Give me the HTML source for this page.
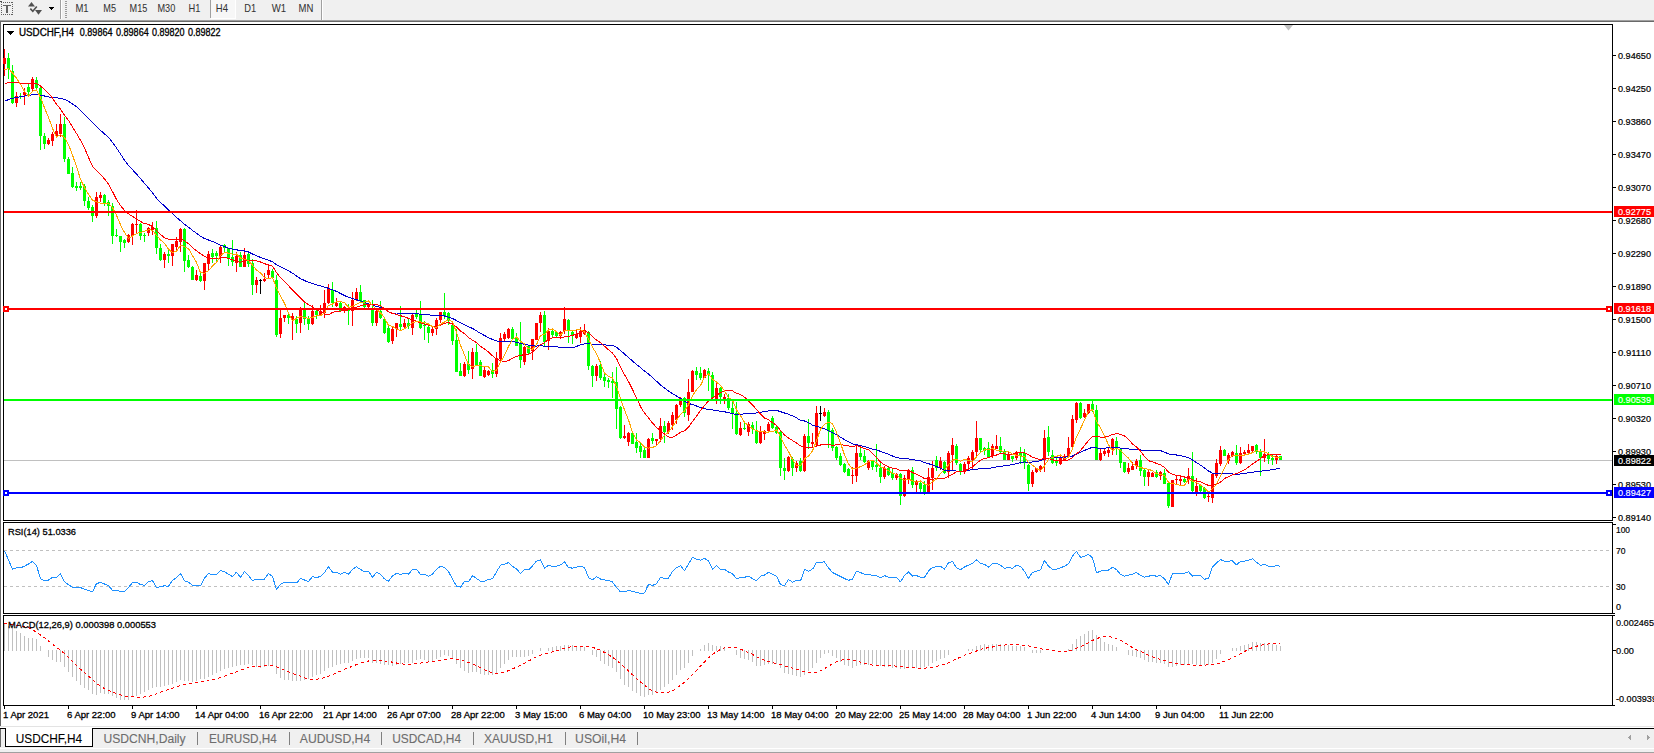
<!DOCTYPE html>
<html><head><meta charset="utf-8"><title>USDCHF,H4</title>
<style>
html,body{margin:0;padding:0;background:#fff;}
body{width:1654px;height:753px;overflow:hidden;font-family:"Liberation Sans", sans-serif;}
svg{display:block;}
text{font-family:"Liberation Sans", sans-serif;}
</style></head><body>
<svg width="1654" height="753" viewBox="0 0 1654 753" shape-rendering="crispEdges">
<rect x="0" y="0" width="1654" height="20" fill="#f0f0f0"/>
<rect x="0" y="20" width="1654" height="1" fill="#a0a0a0"/>
<rect x="0" y="21" width="1654" height="1" fill="#696969"/>
<rect x="0" y="22" width="1654" height="704" fill="#ffffff"/>
<rect x="0" y="21" width="1" height="705" fill="#696969"/>
<rect x="210" y="0" width="26" height="19" fill="#f7f7f7"/>
<rect x="210" y="0" width="1" height="18" fill="#a0a0a0"/>
<rect x="211" y="18" width="25" height="1" fill="#ffffff"/>
<rect x="235" y="0" width="1" height="19" fill="#ffffff"/>
<rect x="60" y="0" width="1" height="19" fill="#a0a0a0"/><rect x="61" y="0" width="1" height="19" fill="#ffffff"/>
<rect x="65" y="1" width="2" height="1" fill="#9a9a9a"/>
<rect x="65" y="3" width="2" height="1" fill="#9a9a9a"/>
<rect x="65" y="5" width="2" height="1" fill="#9a9a9a"/>
<rect x="65" y="7" width="2" height="1" fill="#9a9a9a"/>
<rect x="65" y="9" width="2" height="1" fill="#9a9a9a"/>
<rect x="65" y="11" width="2" height="1" fill="#9a9a9a"/>
<rect x="65" y="13" width="2" height="1" fill="#9a9a9a"/>
<rect x="65" y="15" width="2" height="1" fill="#9a9a9a"/>
<rect x="65" y="17" width="2" height="1" fill="#9a9a9a"/>
<rect x="321" y="0" width="1" height="20" fill="#a0a0a0"/><rect x="322" y="0" width="1" height="20" fill="#ffffff"/>
<rect x="1" y="2" width="1" height="1" fill="#606060"/><rect x="1" y="14" width="1" height="1" fill="#606060"/>
<rect x="3" y="2" width="1" height="1" fill="#606060"/><rect x="3" y="14" width="1" height="1" fill="#606060"/>
<rect x="5" y="2" width="1" height="1" fill="#606060"/><rect x="5" y="14" width="1" height="1" fill="#606060"/>
<rect x="7" y="2" width="1" height="1" fill="#606060"/><rect x="7" y="14" width="1" height="1" fill="#606060"/>
<rect x="9" y="2" width="1" height="1" fill="#606060"/><rect x="9" y="14" width="1" height="1" fill="#606060"/>
<rect x="11" y="2" width="1" height="1" fill="#606060"/><rect x="11" y="14" width="1" height="1" fill="#606060"/>
<rect x="1" y="2" width="1" height="1" fill="#606060"/><rect x="12" y="2" width="1" height="1" fill="#606060"/>
<rect x="1" y="4" width="1" height="1" fill="#606060"/><rect x="12" y="4" width="1" height="1" fill="#606060"/>
<rect x="1" y="6" width="1" height="1" fill="#606060"/><rect x="12" y="6" width="1" height="1" fill="#606060"/>
<rect x="1" y="8" width="1" height="1" fill="#606060"/><rect x="12" y="8" width="1" height="1" fill="#606060"/>
<rect x="1" y="10" width="1" height="1" fill="#606060"/><rect x="12" y="10" width="1" height="1" fill="#606060"/>
<rect x="1" y="12" width="1" height="1" fill="#606060"/><rect x="12" y="12" width="1" height="1" fill="#606060"/>
<rect x="1" y="14" width="1" height="1" fill="#606060"/><rect x="12" y="14" width="1" height="1" fill="#606060"/>
<rect x="3" y="5" width="8" height="1" fill="#606060"/><rect x="6" y="5" width="2" height="8" fill="#606060"/>
<path d="M28 6.5 L31.5 2 L35 6.5 Z" fill="#505050" shape-rendering="auto"/><path d="M35 10 L38.5 14.8 L42 10 Z" fill="#505050" shape-rendering="auto"/>
<path d="M30.3 8.6 L32.8 11.2 L36.8 6.4" stroke="#505050" stroke-width="1.6" fill="none" shape-rendering="auto"/>
<rect x="0" y="1" width="2" height="1" fill="#505050"/>
<path d="M49 7 L54 7 L51.5 10 Z" fill="#000"/>
<text x="75.4" y="12" font-size="10.4" fill="#333333" text-anchor="start" textLength="13.2" lengthAdjust="spacingAndGlyphs" stroke="#333333" stroke-width="0.05">M1</text>
<text x="103.3" y="12" font-size="10.4" fill="#333333" text-anchor="start" textLength="12.7" lengthAdjust="spacingAndGlyphs" stroke="#333333" stroke-width="0.05">M5</text>
<text x="129.6" y="12" font-size="10.4" fill="#333333" text-anchor="start" textLength="17.7" lengthAdjust="spacingAndGlyphs" stroke="#333333" stroke-width="0.05">M15</text>
<text x="157.5" y="12" font-size="10.4" fill="#333333" text-anchor="start" textLength="17.8" lengthAdjust="spacingAndGlyphs" stroke="#333333" stroke-width="0.05">M30</text>
<text x="188.5" y="12" font-size="10.4" fill="#333333" text-anchor="start" textLength="11.9" lengthAdjust="spacingAndGlyphs" stroke="#333333" stroke-width="0.05">H1</text>
<text x="215.8" y="12" font-size="10.4" fill="#333333" text-anchor="start" textLength="12.1" lengthAdjust="spacingAndGlyphs" stroke="#333333" stroke-width="0.05">H4</text>
<text x="244.3" y="12" font-size="10.4" fill="#333333" text-anchor="start" textLength="11.9" lengthAdjust="spacingAndGlyphs" stroke="#333333" stroke-width="0.05">D1</text>
<text x="271.8" y="12" font-size="10.4" fill="#333333" text-anchor="start" textLength="14.4" lengthAdjust="spacingAndGlyphs" stroke="#333333" stroke-width="0.05">W1</text>
<text x="298.5" y="12" font-size="10.4" fill="#333333" text-anchor="start" textLength="14.8" lengthAdjust="spacingAndGlyphs" stroke="#333333" stroke-width="0.05">MN</text>
<rect x="3.5" y="24.5" width="1609" height="496" fill="none" stroke="#000" stroke-width="1"/>
<rect x="3.5" y="522.5" width="1609" height="91" fill="none" stroke="#000" stroke-width="1"/>
<rect x="3.5" y="615.5" width="1609" height="90" fill="none" stroke="#000" stroke-width="1"/>
<path d="M1284 25 L1293 25 L1288.5 30.5 Z" fill="#c0c0c0" shape-rendering="auto"/>
<rect x="1613" y="55" width="3" height="1" fill="#000"/>
<text x="1618" y="59" font-size="9.4" fill="#000" text-anchor="start" textLength="33" lengthAdjust="spacingAndGlyphs" stroke="#000" stroke-width="0.2">0.94650</text>
<rect x="1613" y="88" width="3" height="1" fill="#000"/>
<text x="1618" y="92" font-size="9.4" fill="#000" text-anchor="start" textLength="33" lengthAdjust="spacingAndGlyphs" stroke="#000" stroke-width="0.2">0.94250</text>
<rect x="1613" y="121" width="3" height="1" fill="#000"/>
<text x="1618" y="125" font-size="9.4" fill="#000" text-anchor="start" textLength="33" lengthAdjust="spacingAndGlyphs" stroke="#000" stroke-width="0.2">0.93860</text>
<rect x="1613" y="154" width="3" height="1" fill="#000"/>
<text x="1618" y="158" font-size="9.4" fill="#000" text-anchor="start" textLength="33" lengthAdjust="spacingAndGlyphs" stroke="#000" stroke-width="0.2">0.93470</text>
<rect x="1613" y="187" width="3" height="1" fill="#000"/>
<text x="1618" y="191" font-size="9.4" fill="#000" text-anchor="start" textLength="33" lengthAdjust="spacingAndGlyphs" stroke="#000" stroke-width="0.2">0.93070</text>
<rect x="1613" y="220" width="3" height="1" fill="#000"/>
<text x="1618" y="224" font-size="9.4" fill="#000" text-anchor="start" textLength="33" lengthAdjust="spacingAndGlyphs" stroke="#000" stroke-width="0.2">0.92680</text>
<rect x="1613" y="253" width="3" height="1" fill="#000"/>
<text x="1618" y="257" font-size="9.4" fill="#000" text-anchor="start" textLength="33" lengthAdjust="spacingAndGlyphs" stroke="#000" stroke-width="0.2">0.92290</text>
<rect x="1613" y="286" width="3" height="1" fill="#000"/>
<text x="1618" y="290" font-size="9.4" fill="#000" text-anchor="start" textLength="33" lengthAdjust="spacingAndGlyphs" stroke="#000" stroke-width="0.2">0.91890</text>
<rect x="1613" y="319" width="3" height="1" fill="#000"/>
<text x="1618" y="323" font-size="9.4" fill="#000" text-anchor="start" textLength="33" lengthAdjust="spacingAndGlyphs" stroke="#000" stroke-width="0.2">0.91500</text>
<rect x="1613" y="352" width="3" height="1" fill="#000"/>
<text x="1618" y="356" font-size="9.4" fill="#000" text-anchor="start" textLength="33" lengthAdjust="spacingAndGlyphs" stroke="#000" stroke-width="0.2">0.91110</text>
<rect x="1613" y="385" width="3" height="1" fill="#000"/>
<text x="1618" y="389" font-size="9.4" fill="#000" text-anchor="start" textLength="33" lengthAdjust="spacingAndGlyphs" stroke="#000" stroke-width="0.2">0.90710</text>
<rect x="1613" y="418" width="3" height="1" fill="#000"/>
<text x="1618" y="422" font-size="9.4" fill="#000" text-anchor="start" textLength="33" lengthAdjust="spacingAndGlyphs" stroke="#000" stroke-width="0.2">0.90320</text>
<rect x="1613" y="451" width="3" height="1" fill="#000"/>
<text x="1618" y="455" font-size="9.4" fill="#000" text-anchor="start" textLength="33" lengthAdjust="spacingAndGlyphs" stroke="#000" stroke-width="0.2">0.89930</text>
<rect x="1613" y="484" width="3" height="1" fill="#000"/>
<text x="1618" y="488" font-size="9.4" fill="#000" text-anchor="start" textLength="33" lengthAdjust="spacingAndGlyphs" stroke="#000" stroke-width="0.2">0.89530</text>
<rect x="1613" y="517" width="3" height="1" fill="#000"/>
<text x="1618" y="521" font-size="9.4" fill="#000" text-anchor="start" textLength="33" lengthAdjust="spacingAndGlyphs" stroke="#000" stroke-width="0.2">0.89140</text>
<rect x="4" y="460" width="1608" height="1" fill="#c0c0c0"/>
<rect x="4" y="49" width="1" height="27" fill="#ff0000"/>
<rect x="3" y="58" width="3" height="6" fill="#ff0000"/>
<rect x="8" y="53" width="1" height="26" fill="#00ff00"/>
<rect x="7" y="58" width="3" height="11" fill="#00ff00"/>
<rect x="12" y="65" width="1" height="39" fill="#00ff00"/>
<rect x="11" y="71" width="3" height="32" fill="#00ff00"/>
<rect x="16" y="92" width="1" height="15" fill="#ff0000"/>
<rect x="15" y="96" width="3" height="7" fill="#ff0000"/>
<rect x="20" y="93" width="1" height="6" fill="#00ff00"/>
<rect x="19" y="96" width="3" height="1" fill="#00ff00"/>
<rect x="24" y="88" width="1" height="17" fill="#ff0000"/>
<rect x="23" y="92" width="3" height="3" fill="#ff0000"/>
<rect x="28" y="84" width="1" height="11" fill="#00ff00"/>
<rect x="27" y="87" width="3" height="5" fill="#00ff00"/>
<rect x="32" y="77" width="1" height="14" fill="#ff0000"/>
<rect x="31" y="79" width="3" height="10" fill="#ff0000"/>
<rect x="36" y="77" width="1" height="13" fill="#00ff00"/>
<rect x="35" y="80" width="3" height="8" fill="#00ff00"/>
<rect x="40" y="86" width="1" height="64" fill="#00ff00"/>
<rect x="39" y="88" width="3" height="48" fill="#00ff00"/>
<rect x="44" y="133" width="1" height="16" fill="#00ff00"/>
<rect x="43" y="136" width="3" height="8" fill="#00ff00"/>
<rect x="48" y="138" width="1" height="7" fill="#ff0000"/>
<rect x="47" y="140" width="3" height="4" fill="#ff0000"/>
<rect x="52" y="132" width="1" height="14" fill="#ff0000"/>
<rect x="51" y="134" width="3" height="7" fill="#ff0000"/>
<rect x="56" y="124" width="1" height="13" fill="#ff0000"/>
<rect x="55" y="131" width="3" height="5" fill="#ff0000"/>
<rect x="60" y="114" width="1" height="23" fill="#ff0000"/>
<rect x="59" y="124" width="3" height="10" fill="#ff0000"/>
<rect x="64" y="117" width="1" height="45" fill="#00ff00"/>
<rect x="63" y="124" width="3" height="35" fill="#00ff00"/>
<rect x="68" y="157" width="1" height="17" fill="#00ff00"/>
<rect x="67" y="159" width="3" height="15" fill="#00ff00"/>
<rect x="72" y="167" width="1" height="21" fill="#00ff00"/>
<rect x="71" y="173" width="3" height="14" fill="#00ff00"/>
<rect x="76" y="182" width="1" height="9" fill="#00ff00"/>
<rect x="75" y="186" width="3" height="2" fill="#00ff00"/>
<rect x="80" y="182" width="1" height="8" fill="#00ff00"/>
<rect x="79" y="186" width="3" height="2" fill="#00ff00"/>
<rect x="84" y="184" width="1" height="22" fill="#00ff00"/>
<rect x="83" y="186" width="3" height="15" fill="#00ff00"/>
<rect x="88" y="197" width="1" height="13" fill="#00ff00"/>
<rect x="87" y="201" width="3" height="7" fill="#00ff00"/>
<rect x="92" y="205" width="1" height="17" fill="#00ff00"/>
<rect x="91" y="207" width="3" height="9" fill="#00ff00"/>
<rect x="96" y="192" width="1" height="26" fill="#ff0000"/>
<rect x="95" y="197" width="3" height="19" fill="#ff0000"/>
<rect x="100" y="192" width="1" height="10" fill="#ff0000"/>
<rect x="99" y="195" width="3" height="3" fill="#ff0000"/>
<rect x="104" y="194" width="1" height="12" fill="#00ff00"/>
<rect x="103" y="195" width="3" height="8" fill="#00ff00"/>
<rect x="108" y="200" width="1" height="16" fill="#00ff00"/>
<rect x="107" y="202" width="3" height="4" fill="#00ff00"/>
<rect x="112" y="203" width="1" height="41" fill="#00ff00"/>
<rect x="111" y="206" width="3" height="30" fill="#00ff00"/>
<rect x="116" y="229" width="1" height="8" fill="#00ff00"/>
<rect x="115" y="235" width="3" height="1" fill="#00ff00"/>
<rect x="120" y="236" width="1" height="16" fill="#00ff00"/>
<rect x="119" y="236" width="3" height="6" fill="#00ff00"/>
<rect x="124" y="239" width="1" height="9" fill="#00ff00"/>
<rect x="123" y="240" width="3" height="3" fill="#00ff00"/>
<rect x="128" y="234" width="1" height="9" fill="#ff0000"/>
<rect x="127" y="235" width="3" height="7" fill="#ff0000"/>
<rect x="132" y="223" width="1" height="22" fill="#ff0000"/>
<rect x="131" y="224" width="3" height="12" fill="#ff0000"/>
<rect x="136" y="210" width="1" height="24" fill="#ff0000"/>
<rect x="135" y="224" width="3" height="1" fill="#ff0000"/>
<rect x="140" y="223" width="1" height="17" fill="#00ff00"/>
<rect x="139" y="224" width="3" height="12" fill="#00ff00"/>
<rect x="144" y="233" width="1" height="9" fill="#00ff00"/>
<rect x="143" y="235" width="3" height="1" fill="#00ff00"/>
<rect x="148" y="227" width="1" height="9" fill="#ff0000"/>
<rect x="147" y="228" width="3" height="5" fill="#ff0000"/>
<rect x="152" y="222" width="1" height="13" fill="#ff0000"/>
<rect x="151" y="227" width="3" height="3" fill="#ff0000"/>
<rect x="156" y="221" width="1" height="33" fill="#00ff00"/>
<rect x="155" y="228" width="3" height="20" fill="#00ff00"/>
<rect x="160" y="244" width="1" height="17" fill="#00ff00"/>
<rect x="159" y="248" width="3" height="12" fill="#00ff00"/>
<rect x="164" y="252" width="1" height="16" fill="#ff0000"/>
<rect x="163" y="254" width="3" height="6" fill="#ff0000"/>
<rect x="168" y="250" width="1" height="13" fill="#00ff00"/>
<rect x="167" y="254" width="3" height="2" fill="#00ff00"/>
<rect x="172" y="244" width="1" height="22" fill="#ff0000"/>
<rect x="171" y="244" width="3" height="12" fill="#ff0000"/>
<rect x="176" y="237" width="1" height="14" fill="#ff0000"/>
<rect x="175" y="241" width="3" height="6" fill="#ff0000"/>
<rect x="180" y="228" width="1" height="24" fill="#ff0000"/>
<rect x="179" y="229" width="3" height="13" fill="#ff0000"/>
<rect x="184" y="228" width="1" height="44" fill="#00ff00"/>
<rect x="183" y="229" width="3" height="32" fill="#00ff00"/>
<rect x="188" y="255" width="1" height="13" fill="#00ff00"/>
<rect x="187" y="260" width="3" height="7" fill="#00ff00"/>
<rect x="192" y="266" width="1" height="14" fill="#00ff00"/>
<rect x="191" y="267" width="3" height="13" fill="#00ff00"/>
<rect x="196" y="270" width="1" height="11" fill="#ff0000"/>
<rect x="195" y="275" width="3" height="5" fill="#ff0000"/>
<rect x="200" y="271" width="1" height="11" fill="#00ff00"/>
<rect x="199" y="276" width="3" height="5" fill="#00ff00"/>
<rect x="204" y="263" width="1" height="27" fill="#ff0000"/>
<rect x="203" y="263" width="3" height="18" fill="#ff0000"/>
<rect x="208" y="251" width="1" height="19" fill="#ff0000"/>
<rect x="207" y="254" width="3" height="10" fill="#ff0000"/>
<rect x="212" y="249" width="1" height="14" fill="#00ff00"/>
<rect x="211" y="253" width="3" height="4" fill="#00ff00"/>
<rect x="216" y="251" width="1" height="10" fill="#00ff00"/>
<rect x="215" y="253" width="3" height="3" fill="#00ff00"/>
<rect x="220" y="246" width="1" height="17" fill="#ff0000"/>
<rect x="219" y="247" width="3" height="9" fill="#ff0000"/>
<rect x="224" y="244" width="1" height="8" fill="#00ff00"/>
<rect x="223" y="245" width="3" height="3" fill="#00ff00"/>
<rect x="228" y="248" width="1" height="18" fill="#00ff00"/>
<rect x="227" y="248" width="3" height="10" fill="#00ff00"/>
<rect x="232" y="240" width="1" height="26" fill="#00ff00"/>
<rect x="231" y="257" width="3" height="5" fill="#00ff00"/>
<rect x="236" y="252" width="1" height="20" fill="#ff0000"/>
<rect x="235" y="256" width="3" height="7" fill="#ff0000"/>
<rect x="240" y="252" width="1" height="15" fill="#00ff00"/>
<rect x="239" y="255" width="3" height="12" fill="#00ff00"/>
<rect x="244" y="248" width="1" height="19" fill="#ff0000"/>
<rect x="243" y="255" width="3" height="12" fill="#ff0000"/>
<rect x="248" y="251" width="1" height="16" fill="#00ff00"/>
<rect x="247" y="254" width="3" height="10" fill="#00ff00"/>
<rect x="252" y="259" width="1" height="36" fill="#00ff00"/>
<rect x="251" y="263" width="3" height="22" fill="#00ff00"/>
<rect x="256" y="277" width="1" height="16" fill="#ff0000"/>
<rect x="255" y="280" width="3" height="5" fill="#ff0000"/>
<rect x="260" y="279" width="1" height="15" fill="#000000"/>
<rect x="259" y="280" width="3" height="1" fill="#000000"/>
<rect x="264" y="273" width="1" height="9" fill="#ff0000"/>
<rect x="263" y="279" width="3" height="2" fill="#ff0000"/>
<rect x="268" y="265" width="1" height="14" fill="#ff0000"/>
<rect x="267" y="270" width="3" height="5" fill="#ff0000"/>
<rect x="272" y="269" width="1" height="10" fill="#00ff00"/>
<rect x="271" y="271" width="3" height="7" fill="#00ff00"/>
<rect x="276" y="275" width="1" height="62" fill="#00ff00"/>
<rect x="275" y="280" width="3" height="55" fill="#00ff00"/>
<rect x="280" y="310" width="1" height="28" fill="#ff0000"/>
<rect x="279" y="318" width="3" height="16" fill="#ff0000"/>
<rect x="284" y="315" width="1" height="7" fill="#ff0000"/>
<rect x="283" y="315" width="3" height="3" fill="#ff0000"/>
<rect x="288" y="314" width="1" height="10" fill="#00ff00"/>
<rect x="287" y="315" width="3" height="3" fill="#00ff00"/>
<rect x="292" y="313" width="1" height="27" fill="#ff0000"/>
<rect x="291" y="316" width="3" height="4" fill="#ff0000"/>
<rect x="296" y="316" width="1" height="17" fill="#00ff00"/>
<rect x="295" y="319" width="3" height="5" fill="#00ff00"/>
<rect x="300" y="307" width="1" height="26" fill="#ff0000"/>
<rect x="299" y="309" width="3" height="14" fill="#ff0000"/>
<rect x="304" y="303" width="1" height="22" fill="#00ff00"/>
<rect x="303" y="310" width="3" height="9" fill="#00ff00"/>
<rect x="308" y="316" width="1" height="14" fill="#00ff00"/>
<rect x="307" y="319" width="3" height="5" fill="#00ff00"/>
<rect x="312" y="305" width="1" height="20" fill="#ff0000"/>
<rect x="311" y="311" width="3" height="13" fill="#ff0000"/>
<rect x="316" y="310" width="1" height="9" fill="#00ff00"/>
<rect x="315" y="311" width="3" height="4" fill="#00ff00"/>
<rect x="320" y="305" width="1" height="11" fill="#ff0000"/>
<rect x="319" y="311" width="3" height="4" fill="#ff0000"/>
<rect x="324" y="290" width="1" height="28" fill="#ff0000"/>
<rect x="323" y="303" width="3" height="10" fill="#ff0000"/>
<rect x="328" y="284" width="1" height="20" fill="#ff0000"/>
<rect x="327" y="288" width="3" height="15" fill="#ff0000"/>
<rect x="332" y="282" width="1" height="25" fill="#00ff00"/>
<rect x="331" y="290" width="3" height="13" fill="#00ff00"/>
<rect x="336" y="298" width="1" height="9" fill="#ff0000"/>
<rect x="335" y="303" width="3" height="3" fill="#ff0000"/>
<rect x="340" y="301" width="1" height="11" fill="#00ff00"/>
<rect x="339" y="303" width="3" height="8" fill="#00ff00"/>
<rect x="344" y="306" width="1" height="7" fill="#ff0000"/>
<rect x="343" y="307" width="3" height="4" fill="#ff0000"/>
<rect x="348" y="304" width="1" height="21" fill="#00ff00"/>
<rect x="347" y="308" width="3" height="3" fill="#00ff00"/>
<rect x="352" y="292" width="1" height="34" fill="#ff0000"/>
<rect x="351" y="300" width="3" height="11" fill="#ff0000"/>
<rect x="356" y="288" width="1" height="13" fill="#ff0000"/>
<rect x="355" y="292" width="3" height="8" fill="#ff0000"/>
<rect x="360" y="285" width="1" height="17" fill="#00ff00"/>
<rect x="359" y="292" width="3" height="9" fill="#00ff00"/>
<rect x="364" y="300" width="1" height="8" fill="#00ff00"/>
<rect x="363" y="300" width="3" height="7" fill="#00ff00"/>
<rect x="368" y="303" width="1" height="5" fill="#ff0000"/>
<rect x="367" y="304" width="3" height="3" fill="#ff0000"/>
<rect x="372" y="300" width="1" height="26" fill="#00ff00"/>
<rect x="371" y="310" width="3" height="13" fill="#00ff00"/>
<rect x="376" y="309" width="1" height="17" fill="#ff0000"/>
<rect x="375" y="311" width="3" height="12" fill="#ff0000"/>
<rect x="380" y="301" width="1" height="18" fill="#00ff00"/>
<rect x="379" y="311" width="3" height="7" fill="#00ff00"/>
<rect x="384" y="318" width="1" height="16" fill="#00ff00"/>
<rect x="383" y="319" width="3" height="14" fill="#00ff00"/>
<rect x="388" y="326" width="1" height="17" fill="#00ff00"/>
<rect x="387" y="328" width="3" height="14" fill="#00ff00"/>
<rect x="392" y="327" width="1" height="17" fill="#ff0000"/>
<rect x="391" y="329" width="3" height="12" fill="#ff0000"/>
<rect x="396" y="323" width="1" height="14" fill="#ff0000"/>
<rect x="395" y="323" width="3" height="6" fill="#ff0000"/>
<rect x="400" y="306" width="1" height="25" fill="#00ff00"/>
<rect x="399" y="324" width="3" height="3" fill="#00ff00"/>
<rect x="404" y="319" width="1" height="10" fill="#ff0000"/>
<rect x="403" y="323" width="3" height="4" fill="#ff0000"/>
<rect x="408" y="319" width="1" height="10" fill="#00ff00"/>
<rect x="407" y="323" width="3" height="3" fill="#00ff00"/>
<rect x="412" y="314" width="1" height="21" fill="#ff0000"/>
<rect x="411" y="315" width="3" height="13" fill="#ff0000"/>
<rect x="416" y="310" width="1" height="9" fill="#00ff00"/>
<rect x="415" y="314" width="3" height="3" fill="#00ff00"/>
<rect x="420" y="301" width="1" height="28" fill="#00ff00"/>
<rect x="419" y="315" width="3" height="13" fill="#00ff00"/>
<rect x="424" y="321" width="1" height="19" fill="#00ff00"/>
<rect x="423" y="325" width="3" height="1" fill="#00ff00"/>
<rect x="428" y="326" width="1" height="17" fill="#00ff00"/>
<rect x="427" y="327" width="3" height="6" fill="#00ff00"/>
<rect x="432" y="327" width="1" height="9" fill="#ff0000"/>
<rect x="431" y="329" width="3" height="4" fill="#ff0000"/>
<rect x="436" y="318" width="1" height="17" fill="#ff0000"/>
<rect x="435" y="320" width="3" height="9" fill="#ff0000"/>
<rect x="440" y="312" width="1" height="11" fill="#ff0000"/>
<rect x="439" y="312" width="3" height="8" fill="#ff0000"/>
<rect x="444" y="293" width="1" height="26" fill="#00ff00"/>
<rect x="443" y="312" width="3" height="4" fill="#00ff00"/>
<rect x="448" y="312" width="1" height="13" fill="#00ff00"/>
<rect x="447" y="313" width="3" height="8" fill="#00ff00"/>
<rect x="452" y="323" width="1" height="22" fill="#00ff00"/>
<rect x="451" y="325" width="3" height="16" fill="#00ff00"/>
<rect x="456" y="329" width="1" height="43" fill="#00ff00"/>
<rect x="455" y="340" width="3" height="32" fill="#00ff00"/>
<rect x="460" y="363" width="1" height="13" fill="#00ff00"/>
<rect x="459" y="371" width="3" height="5" fill="#00ff00"/>
<rect x="464" y="362" width="1" height="15" fill="#ff0000"/>
<rect x="463" y="364" width="3" height="12" fill="#ff0000"/>
<rect x="468" y="351" width="1" height="23" fill="#00ff00"/>
<rect x="467" y="364" width="3" height="6" fill="#00ff00"/>
<rect x="472" y="348" width="1" height="31" fill="#ff0000"/>
<rect x="471" y="352" width="3" height="17" fill="#ff0000"/>
<rect x="476" y="344" width="1" height="22" fill="#00ff00"/>
<rect x="475" y="352" width="3" height="13" fill="#00ff00"/>
<rect x="480" y="360" width="1" height="16" fill="#00ff00"/>
<rect x="479" y="362" width="3" height="14" fill="#00ff00"/>
<rect x="484" y="367" width="1" height="11" fill="#ff0000"/>
<rect x="483" y="370" width="3" height="7" fill="#ff0000"/>
<rect x="488" y="370" width="1" height="6" fill="#ff0000"/>
<rect x="487" y="371" width="3" height="4" fill="#ff0000"/>
<rect x="492" y="363" width="1" height="15" fill="#00ff00"/>
<rect x="491" y="370" width="3" height="4" fill="#00ff00"/>
<rect x="496" y="352" width="1" height="25" fill="#ff0000"/>
<rect x="495" y="358" width="3" height="16" fill="#ff0000"/>
<rect x="500" y="333" width="1" height="29" fill="#ff0000"/>
<rect x="499" y="338" width="3" height="21" fill="#ff0000"/>
<rect x="504" y="332" width="1" height="10" fill="#ff0000"/>
<rect x="503" y="334" width="3" height="5" fill="#ff0000"/>
<rect x="508" y="328" width="1" height="11" fill="#ff0000"/>
<rect x="507" y="329" width="3" height="9" fill="#ff0000"/>
<rect x="512" y="327" width="1" height="12" fill="#00ff00"/>
<rect x="511" y="329" width="3" height="10" fill="#00ff00"/>
<rect x="516" y="333" width="1" height="13" fill="#00ff00"/>
<rect x="515" y="338" width="3" height="8" fill="#00ff00"/>
<rect x="520" y="322" width="1" height="46" fill="#00ff00"/>
<rect x="519" y="344" width="3" height="16" fill="#00ff00"/>
<rect x="524" y="346" width="1" height="19" fill="#ff0000"/>
<rect x="523" y="347" width="3" height="15" fill="#ff0000"/>
<rect x="528" y="345" width="1" height="9" fill="#00ff00"/>
<rect x="527" y="346" width="3" height="7" fill="#00ff00"/>
<rect x="532" y="339" width="1" height="21" fill="#ff0000"/>
<rect x="531" y="339" width="3" height="12" fill="#ff0000"/>
<rect x="536" y="323" width="1" height="17" fill="#ff0000"/>
<rect x="535" y="323" width="3" height="17" fill="#ff0000"/>
<rect x="540" y="312" width="1" height="20" fill="#ff0000"/>
<rect x="539" y="315" width="3" height="8" fill="#ff0000"/>
<rect x="544" y="311" width="1" height="35" fill="#00ff00"/>
<rect x="543" y="315" width="3" height="27" fill="#00ff00"/>
<rect x="548" y="328" width="1" height="22" fill="#ff0000"/>
<rect x="547" y="331" width="3" height="10" fill="#ff0000"/>
<rect x="552" y="329" width="1" height="9" fill="#00ff00"/>
<rect x="551" y="331" width="3" height="4" fill="#00ff00"/>
<rect x="556" y="331" width="1" height="6" fill="#00ff00"/>
<rect x="555" y="332" width="3" height="4" fill="#00ff00"/>
<rect x="560" y="331" width="1" height="8" fill="#ff0000"/>
<rect x="559" y="332" width="3" height="4" fill="#ff0000"/>
<rect x="564" y="307" width="1" height="27" fill="#ff0000"/>
<rect x="563" y="319" width="3" height="12" fill="#ff0000"/>
<rect x="568" y="319" width="1" height="24" fill="#00ff00"/>
<rect x="567" y="320" width="3" height="11" fill="#00ff00"/>
<rect x="572" y="330" width="1" height="14" fill="#00ff00"/>
<rect x="571" y="332" width="3" height="3" fill="#00ff00"/>
<rect x="576" y="330" width="1" height="9" fill="#ff0000"/>
<rect x="575" y="334" width="3" height="4" fill="#ff0000"/>
<rect x="580" y="327" width="1" height="16" fill="#ff0000"/>
<rect x="579" y="331" width="3" height="6" fill="#ff0000"/>
<rect x="584" y="324" width="1" height="11" fill="#ff0000"/>
<rect x="583" y="330" width="3" height="4" fill="#ff0000"/>
<rect x="588" y="331" width="1" height="39" fill="#00ff00"/>
<rect x="587" y="332" width="3" height="34" fill="#00ff00"/>
<rect x="592" y="365" width="1" height="22" fill="#00ff00"/>
<rect x="591" y="366" width="3" height="10" fill="#00ff00"/>
<rect x="596" y="364" width="1" height="17" fill="#ff0000"/>
<rect x="595" y="366" width="3" height="10" fill="#ff0000"/>
<rect x="600" y="361" width="1" height="19" fill="#00ff00"/>
<rect x="599" y="365" width="3" height="13" fill="#00ff00"/>
<rect x="604" y="374" width="1" height="13" fill="#00ff00"/>
<rect x="603" y="377" width="3" height="4" fill="#00ff00"/>
<rect x="608" y="378" width="1" height="10" fill="#00ff00"/>
<rect x="607" y="380" width="3" height="2" fill="#00ff00"/>
<rect x="612" y="372" width="1" height="26" fill="#00ff00"/>
<rect x="611" y="381" width="3" height="2" fill="#00ff00"/>
<rect x="616" y="367" width="1" height="62" fill="#00ff00"/>
<rect x="615" y="382" width="3" height="27" fill="#00ff00"/>
<rect x="620" y="406" width="1" height="33" fill="#00ff00"/>
<rect x="619" y="407" width="3" height="31" fill="#00ff00"/>
<rect x="624" y="425" width="1" height="14" fill="#ff0000"/>
<rect x="623" y="436" width="3" height="2" fill="#ff0000"/>
<rect x="628" y="432" width="1" height="14" fill="#ff0000"/>
<rect x="627" y="433" width="3" height="9" fill="#ff0000"/>
<rect x="632" y="431" width="1" height="13" fill="#00ff00"/>
<rect x="631" y="433" width="3" height="11" fill="#00ff00"/>
<rect x="636" y="433" width="1" height="20" fill="#00ff00"/>
<rect x="635" y="442" width="3" height="6" fill="#00ff00"/>
<rect x="640" y="442" width="1" height="16" fill="#00ff00"/>
<rect x="639" y="446" width="3" height="6" fill="#00ff00"/>
<rect x="644" y="446" width="1" height="12" fill="#00ff00"/>
<rect x="643" y="450" width="3" height="8" fill="#00ff00"/>
<rect x="648" y="438" width="1" height="20" fill="#ff0000"/>
<rect x="647" y="439" width="3" height="19" fill="#ff0000"/>
<rect x="652" y="433" width="1" height="11" fill="#00ff00"/>
<rect x="651" y="438" width="3" height="3" fill="#00ff00"/>
<rect x="656" y="439" width="1" height="7" fill="#ff0000"/>
<rect x="655" y="439" width="3" height="2" fill="#ff0000"/>
<rect x="660" y="418" width="1" height="24" fill="#ff0000"/>
<rect x="659" y="426" width="3" height="13" fill="#ff0000"/>
<rect x="664" y="421" width="1" height="22" fill="#00ff00"/>
<rect x="663" y="426" width="3" height="6" fill="#00ff00"/>
<rect x="668" y="421" width="1" height="13" fill="#ff0000"/>
<rect x="667" y="423" width="3" height="9" fill="#ff0000"/>
<rect x="672" y="412" width="1" height="18" fill="#ff0000"/>
<rect x="671" y="415" width="3" height="10" fill="#ff0000"/>
<rect x="676" y="404" width="1" height="20" fill="#ff0000"/>
<rect x="675" y="405" width="3" height="15" fill="#ff0000"/>
<rect x="680" y="397" width="1" height="10" fill="#ff0000"/>
<rect x="679" y="398" width="3" height="7" fill="#ff0000"/>
<rect x="684" y="397" width="1" height="20" fill="#00ff00"/>
<rect x="683" y="398" width="3" height="15" fill="#00ff00"/>
<rect x="688" y="379" width="1" height="42" fill="#ff0000"/>
<rect x="687" y="392" width="3" height="23" fill="#ff0000"/>
<rect x="692" y="370" width="1" height="22" fill="#ff0000"/>
<rect x="691" y="371" width="3" height="21" fill="#ff0000"/>
<rect x="696" y="367" width="1" height="13" fill="#00ff00"/>
<rect x="695" y="371" width="3" height="4" fill="#00ff00"/>
<rect x="700" y="367" width="1" height="13" fill="#00ff00"/>
<rect x="699" y="373" width="3" height="5" fill="#00ff00"/>
<rect x="704" y="369" width="1" height="9" fill="#ff0000"/>
<rect x="703" y="370" width="3" height="8" fill="#ff0000"/>
<rect x="708" y="368" width="1" height="23" fill="#00ff00"/>
<rect x="707" y="371" width="3" height="4" fill="#00ff00"/>
<rect x="712" y="372" width="1" height="26" fill="#00ff00"/>
<rect x="711" y="375" width="3" height="23" fill="#00ff00"/>
<rect x="716" y="383" width="1" height="21" fill="#ff0000"/>
<rect x="715" y="388" width="3" height="11" fill="#ff0000"/>
<rect x="720" y="387" width="1" height="17" fill="#00ff00"/>
<rect x="719" y="388" width="3" height="9" fill="#00ff00"/>
<rect x="724" y="394" width="1" height="10" fill="#ff0000"/>
<rect x="723" y="397" width="3" height="3" fill="#ff0000"/>
<rect x="728" y="394" width="1" height="16" fill="#00ff00"/>
<rect x="727" y="398" width="3" height="10" fill="#00ff00"/>
<rect x="732" y="402" width="1" height="27" fill="#00ff00"/>
<rect x="731" y="408" width="3" height="5" fill="#00ff00"/>
<rect x="736" y="402" width="1" height="33" fill="#00ff00"/>
<rect x="735" y="413" width="3" height="21" fill="#00ff00"/>
<rect x="740" y="422" width="1" height="14" fill="#ff0000"/>
<rect x="739" y="428" width="3" height="7" fill="#ff0000"/>
<rect x="744" y="422" width="1" height="8" fill="#00ff00"/>
<rect x="743" y="428" width="3" height="1" fill="#00ff00"/>
<rect x="748" y="422" width="1" height="14" fill="#ff0000"/>
<rect x="747" y="424" width="3" height="8" fill="#ff0000"/>
<rect x="752" y="422" width="1" height="12" fill="#00ff00"/>
<rect x="751" y="425" width="3" height="4" fill="#00ff00"/>
<rect x="756" y="421" width="1" height="23" fill="#00ff00"/>
<rect x="755" y="431" width="3" height="12" fill="#00ff00"/>
<rect x="760" y="426" width="1" height="18" fill="#ff0000"/>
<rect x="759" y="432" width="3" height="11" fill="#ff0000"/>
<rect x="764" y="430" width="1" height="10" fill="#ff0000"/>
<rect x="763" y="431" width="3" height="3" fill="#ff0000"/>
<rect x="768" y="422" width="1" height="10" fill="#ff0000"/>
<rect x="767" y="424" width="3" height="7" fill="#ff0000"/>
<rect x="772" y="416" width="1" height="13" fill="#00ff00"/>
<rect x="771" y="418" width="3" height="10" fill="#00ff00"/>
<rect x="776" y="426" width="1" height="8" fill="#00ff00"/>
<rect x="775" y="427" width="3" height="6" fill="#00ff00"/>
<rect x="780" y="431" width="1" height="45" fill="#00ff00"/>
<rect x="779" y="432" width="3" height="36" fill="#00ff00"/>
<rect x="784" y="458" width="1" height="22" fill="#00ff00"/>
<rect x="783" y="468" width="3" height="3" fill="#00ff00"/>
<rect x="788" y="456" width="1" height="16" fill="#ff0000"/>
<rect x="787" y="457" width="3" height="14" fill="#ff0000"/>
<rect x="792" y="457" width="1" height="19" fill="#00ff00"/>
<rect x="791" y="459" width="3" height="9" fill="#00ff00"/>
<rect x="796" y="461" width="1" height="11" fill="#ff0000"/>
<rect x="795" y="463" width="3" height="5" fill="#ff0000"/>
<rect x="800" y="458" width="1" height="14" fill="#00ff00"/>
<rect x="799" y="461" width="3" height="10" fill="#00ff00"/>
<rect x="804" y="434" width="1" height="38" fill="#ff0000"/>
<rect x="803" y="436" width="3" height="35" fill="#ff0000"/>
<rect x="808" y="419" width="1" height="30" fill="#00ff00"/>
<rect x="807" y="436" width="3" height="7" fill="#00ff00"/>
<rect x="812" y="433" width="1" height="15" fill="#ff0000"/>
<rect x="811" y="442" width="3" height="2" fill="#ff0000"/>
<rect x="816" y="406" width="1" height="40" fill="#ff0000"/>
<rect x="815" y="413" width="3" height="32" fill="#ff0000"/>
<rect x="820" y="406" width="1" height="15" fill="#000000"/>
<rect x="819" y="413" width="3" height="1" fill="#000000"/>
<rect x="824" y="408" width="1" height="9" fill="#ff0000"/>
<rect x="823" y="412" width="3" height="4" fill="#ff0000"/>
<rect x="828" y="410" width="1" height="38" fill="#00ff00"/>
<rect x="827" y="412" width="3" height="19" fill="#00ff00"/>
<rect x="832" y="428" width="1" height="23" fill="#00ff00"/>
<rect x="831" y="430" width="3" height="18" fill="#00ff00"/>
<rect x="836" y="446" width="1" height="14" fill="#00ff00"/>
<rect x="835" y="447" width="3" height="11" fill="#00ff00"/>
<rect x="840" y="453" width="1" height="13" fill="#00ff00"/>
<rect x="839" y="456" width="3" height="9" fill="#00ff00"/>
<rect x="844" y="463" width="1" height="10" fill="#00ff00"/>
<rect x="843" y="464" width="3" height="8" fill="#00ff00"/>
<rect x="848" y="468" width="1" height="8" fill="#00ff00"/>
<rect x="847" y="469" width="3" height="7" fill="#00ff00"/>
<rect x="852" y="467" width="1" height="17" fill="#ff0000"/>
<rect x="851" y="475" width="3" height="1" fill="#ff0000"/>
<rect x="856" y="444" width="1" height="38" fill="#ff0000"/>
<rect x="855" y="453" width="3" height="23" fill="#ff0000"/>
<rect x="860" y="448" width="1" height="12" fill="#00ff00"/>
<rect x="859" y="453" width="3" height="4" fill="#00ff00"/>
<rect x="864" y="450" width="1" height="13" fill="#00ff00"/>
<rect x="863" y="456" width="3" height="6" fill="#00ff00"/>
<rect x="868" y="460" width="1" height="10" fill="#ff0000"/>
<rect x="867" y="461" width="3" height="7" fill="#ff0000"/>
<rect x="872" y="460" width="1" height="10" fill="#00ff00"/>
<rect x="871" y="461" width="3" height="6" fill="#00ff00"/>
<rect x="876" y="444" width="1" height="28" fill="#00ff00"/>
<rect x="875" y="465" width="3" height="2" fill="#00ff00"/>
<rect x="880" y="463" width="1" height="20" fill="#00ff00"/>
<rect x="879" y="468" width="3" height="9" fill="#00ff00"/>
<rect x="884" y="466" width="1" height="13" fill="#ff0000"/>
<rect x="883" y="468" width="3" height="9" fill="#ff0000"/>
<rect x="888" y="467" width="1" height="9" fill="#00ff00"/>
<rect x="887" y="468" width="3" height="7" fill="#00ff00"/>
<rect x="892" y="469" width="1" height="11" fill="#00ff00"/>
<rect x="891" y="473" width="3" height="5" fill="#00ff00"/>
<rect x="896" y="473" width="1" height="7" fill="#ff0000"/>
<rect x="895" y="474" width="3" height="4" fill="#ff0000"/>
<rect x="900" y="473" width="1" height="32" fill="#00ff00"/>
<rect x="899" y="474" width="3" height="22" fill="#00ff00"/>
<rect x="904" y="475" width="1" height="22" fill="#ff0000"/>
<rect x="903" y="478" width="3" height="18" fill="#ff0000"/>
<rect x="908" y="469" width="1" height="15" fill="#ff0000"/>
<rect x="907" y="470" width="3" height="10" fill="#ff0000"/>
<rect x="912" y="467" width="1" height="21" fill="#00ff00"/>
<rect x="911" y="470" width="3" height="15" fill="#00ff00"/>
<rect x="916" y="480" width="1" height="12" fill="#ff0000"/>
<rect x="915" y="482" width="3" height="3" fill="#ff0000"/>
<rect x="920" y="482" width="1" height="10" fill="#00ff00"/>
<rect x="919" y="483" width="3" height="6" fill="#00ff00"/>
<rect x="924" y="481" width="1" height="14" fill="#00ff00"/>
<rect x="923" y="485" width="3" height="7" fill="#00ff00"/>
<rect x="928" y="468" width="1" height="24" fill="#ff0000"/>
<rect x="927" y="477" width="3" height="15" fill="#ff0000"/>
<rect x="932" y="461" width="1" height="29" fill="#ff0000"/>
<rect x="931" y="468" width="3" height="10" fill="#ff0000"/>
<rect x="936" y="456" width="1" height="15" fill="#00ff00"/>
<rect x="935" y="460" width="3" height="8" fill="#00ff00"/>
<rect x="940" y="457" width="1" height="13" fill="#ff0000"/>
<rect x="939" y="461" width="3" height="7" fill="#ff0000"/>
<rect x="944" y="461" width="1" height="13" fill="#00ff00"/>
<rect x="943" y="462" width="3" height="11" fill="#00ff00"/>
<rect x="948" y="451" width="1" height="27" fill="#ff0000"/>
<rect x="947" y="453" width="3" height="19" fill="#ff0000"/>
<rect x="952" y="438" width="1" height="32" fill="#ff0000"/>
<rect x="951" y="445" width="3" height="10" fill="#ff0000"/>
<rect x="956" y="444" width="1" height="21" fill="#00ff00"/>
<rect x="955" y="446" width="3" height="17" fill="#00ff00"/>
<rect x="960" y="463" width="1" height="12" fill="#00ff00"/>
<rect x="959" y="464" width="3" height="8" fill="#00ff00"/>
<rect x="964" y="462" width="1" height="12" fill="#ff0000"/>
<rect x="963" y="464" width="3" height="8" fill="#ff0000"/>
<rect x="968" y="456" width="1" height="12" fill="#ff0000"/>
<rect x="967" y="458" width="3" height="6" fill="#ff0000"/>
<rect x="972" y="450" width="1" height="20" fill="#ff0000"/>
<rect x="971" y="452" width="3" height="8" fill="#ff0000"/>
<rect x="976" y="421" width="1" height="35" fill="#ff0000"/>
<rect x="975" y="438" width="3" height="14" fill="#ff0000"/>
<rect x="980" y="438" width="1" height="14" fill="#00ff00"/>
<rect x="979" y="438" width="3" height="12" fill="#00ff00"/>
<rect x="984" y="447" width="1" height="8" fill="#00ff00"/>
<rect x="983" y="448" width="3" height="3" fill="#00ff00"/>
<rect x="988" y="442" width="1" height="16" fill="#00ff00"/>
<rect x="987" y="448" width="3" height="9" fill="#00ff00"/>
<rect x="992" y="444" width="1" height="14" fill="#ff0000"/>
<rect x="991" y="446" width="3" height="10" fill="#ff0000"/>
<rect x="996" y="435" width="1" height="14" fill="#ff0000"/>
<rect x="995" y="446" width="3" height="3" fill="#ff0000"/>
<rect x="1000" y="437" width="1" height="17" fill="#00ff00"/>
<rect x="999" y="446" width="3" height="6" fill="#00ff00"/>
<rect x="1004" y="449" width="1" height="11" fill="#00ff00"/>
<rect x="1003" y="451" width="3" height="9" fill="#00ff00"/>
<rect x="1008" y="452" width="1" height="8" fill="#ff0000"/>
<rect x="1007" y="454" width="3" height="6" fill="#ff0000"/>
<rect x="1012" y="456" width="1" height="6" fill="#00ff00"/>
<rect x="1011" y="456" width="3" height="3" fill="#00ff00"/>
<rect x="1016" y="451" width="1" height="9" fill="#ff0000"/>
<rect x="1015" y="452" width="3" height="6" fill="#ff0000"/>
<rect x="1020" y="447" width="1" height="17" fill="#00ff00"/>
<rect x="1019" y="452" width="3" height="4" fill="#00ff00"/>
<rect x="1024" y="449" width="1" height="20" fill="#00ff00"/>
<rect x="1023" y="453" width="3" height="9" fill="#00ff00"/>
<rect x="1028" y="464" width="1" height="27" fill="#00ff00"/>
<rect x="1027" y="465" width="3" height="19" fill="#00ff00"/>
<rect x="1032" y="470" width="1" height="17" fill="#ff0000"/>
<rect x="1031" y="472" width="3" height="12" fill="#ff0000"/>
<rect x="1036" y="468" width="1" height="5" fill="#ff0000"/>
<rect x="1035" y="468" width="3" height="4" fill="#ff0000"/>
<rect x="1040" y="465" width="1" height="7" fill="#ff0000"/>
<rect x="1039" y="466" width="3" height="4" fill="#ff0000"/>
<rect x="1044" y="430" width="1" height="42" fill="#ff0000"/>
<rect x="1043" y="438" width="3" height="22" fill="#ff0000"/>
<rect x="1048" y="426" width="1" height="30" fill="#00ff00"/>
<rect x="1047" y="437" width="3" height="15" fill="#00ff00"/>
<rect x="1052" y="450" width="1" height="14" fill="#00ff00"/>
<rect x="1051" y="455" width="3" height="8" fill="#00ff00"/>
<rect x="1056" y="458" width="1" height="8" fill="#00ff00"/>
<rect x="1055" y="460" width="3" height="3" fill="#00ff00"/>
<rect x="1060" y="455" width="1" height="10" fill="#ff0000"/>
<rect x="1059" y="458" width="3" height="6" fill="#ff0000"/>
<rect x="1064" y="454" width="1" height="7" fill="#ff0000"/>
<rect x="1063" y="456" width="3" height="4" fill="#ff0000"/>
<rect x="1068" y="437" width="1" height="21" fill="#ff0000"/>
<rect x="1067" y="448" width="3" height="9" fill="#ff0000"/>
<rect x="1072" y="415" width="1" height="34" fill="#ff0000"/>
<rect x="1071" y="419" width="3" height="28" fill="#ff0000"/>
<rect x="1076" y="402" width="1" height="21" fill="#ff0000"/>
<rect x="1075" y="403" width="3" height="17" fill="#ff0000"/>
<rect x="1080" y="402" width="1" height="17" fill="#00ff00"/>
<rect x="1079" y="403" width="3" height="15" fill="#00ff00"/>
<rect x="1084" y="409" width="1" height="9" fill="#ff0000"/>
<rect x="1083" y="413" width="3" height="4" fill="#ff0000"/>
<rect x="1088" y="404" width="1" height="10" fill="#ff0000"/>
<rect x="1087" y="404" width="3" height="9" fill="#ff0000"/>
<rect x="1092" y="400" width="1" height="12" fill="#00ff00"/>
<rect x="1091" y="404" width="3" height="6" fill="#00ff00"/>
<rect x="1096" y="405" width="1" height="55" fill="#00ff00"/>
<rect x="1095" y="410" width="3" height="50" fill="#00ff00"/>
<rect x="1100" y="449" width="1" height="12" fill="#ff0000"/>
<rect x="1099" y="453" width="3" height="7" fill="#ff0000"/>
<rect x="1104" y="449" width="1" height="7" fill="#ff0000"/>
<rect x="1103" y="451" width="3" height="3" fill="#ff0000"/>
<rect x="1108" y="448" width="1" height="9" fill="#ff0000"/>
<rect x="1107" y="450" width="3" height="3" fill="#ff0000"/>
<rect x="1112" y="438" width="1" height="17" fill="#ff0000"/>
<rect x="1111" y="439" width="3" height="11" fill="#ff0000"/>
<rect x="1116" y="437" width="1" height="18" fill="#00ff00"/>
<rect x="1115" y="441" width="3" height="8" fill="#00ff00"/>
<rect x="1120" y="448" width="1" height="20" fill="#00ff00"/>
<rect x="1119" y="449" width="3" height="14" fill="#00ff00"/>
<rect x="1124" y="462" width="1" height="11" fill="#00ff00"/>
<rect x="1123" y="462" width="3" height="10" fill="#00ff00"/>
<rect x="1128" y="463" width="1" height="11" fill="#ff0000"/>
<rect x="1127" y="468" width="3" height="4" fill="#ff0000"/>
<rect x="1132" y="462" width="1" height="8" fill="#ff0000"/>
<rect x="1131" y="466" width="3" height="4" fill="#ff0000"/>
<rect x="1136" y="459" width="1" height="10" fill="#ff0000"/>
<rect x="1135" y="461" width="3" height="5" fill="#ff0000"/>
<rect x="1140" y="455" width="1" height="21" fill="#00ff00"/>
<rect x="1139" y="460" width="3" height="11" fill="#00ff00"/>
<rect x="1144" y="469" width="1" height="17" fill="#00ff00"/>
<rect x="1143" y="470" width="3" height="7" fill="#00ff00"/>
<rect x="1148" y="470" width="1" height="16" fill="#ff0000"/>
<rect x="1147" y="472" width="3" height="5" fill="#ff0000"/>
<rect x="1152" y="472" width="1" height="5" fill="#ff0000"/>
<rect x="1151" y="473" width="3" height="4" fill="#ff0000"/>
<rect x="1156" y="470" width="1" height="8" fill="#00ff00"/>
<rect x="1155" y="472" width="3" height="5" fill="#00ff00"/>
<rect x="1160" y="471" width="1" height="9" fill="#ff0000"/>
<rect x="1159" y="472" width="3" height="4" fill="#ff0000"/>
<rect x="1164" y="469" width="1" height="15" fill="#00ff00"/>
<rect x="1163" y="473" width="3" height="11" fill="#00ff00"/>
<rect x="1168" y="483" width="1" height="25" fill="#00ff00"/>
<rect x="1167" y="483" width="3" height="23" fill="#00ff00"/>
<rect x="1172" y="480" width="1" height="27" fill="#ff0000"/>
<rect x="1171" y="480" width="3" height="27" fill="#ff0000"/>
<rect x="1176" y="475" width="1" height="9" fill="#ff0000"/>
<rect x="1175" y="479" width="3" height="1" fill="#ff0000"/>
<rect x="1180" y="476" width="1" height="9" fill="#ff0000"/>
<rect x="1179" y="479" width="3" height="2" fill="#ff0000"/>
<rect x="1184" y="478" width="1" height="5" fill="#00ff00"/>
<rect x="1183" y="479" width="3" height="3" fill="#00ff00"/>
<rect x="1188" y="468" width="1" height="16" fill="#ff0000"/>
<rect x="1187" y="476" width="3" height="4" fill="#ff0000"/>
<rect x="1192" y="452" width="1" height="40" fill="#00ff00"/>
<rect x="1191" y="476" width="3" height="15" fill="#00ff00"/>
<rect x="1196" y="478" width="1" height="18" fill="#ff0000"/>
<rect x="1195" y="486" width="3" height="6" fill="#ff0000"/>
<rect x="1200" y="484" width="1" height="8" fill="#00ff00"/>
<rect x="1199" y="485" width="3" height="6" fill="#00ff00"/>
<rect x="1204" y="487" width="1" height="12" fill="#00ff00"/>
<rect x="1203" y="488" width="3" height="10" fill="#00ff00"/>
<rect x="1208" y="492" width="1" height="10" fill="#ff0000"/>
<rect x="1207" y="496" width="3" height="1" fill="#ff0000"/>
<rect x="1212" y="473" width="1" height="30" fill="#ff0000"/>
<rect x="1211" y="474" width="3" height="24" fill="#ff0000"/>
<rect x="1216" y="459" width="1" height="19" fill="#ff0000"/>
<rect x="1215" y="463" width="3" height="13" fill="#ff0000"/>
<rect x="1220" y="446" width="1" height="20" fill="#ff0000"/>
<rect x="1219" y="450" width="3" height="14" fill="#ff0000"/>
<rect x="1224" y="449" width="1" height="7" fill="#00ff00"/>
<rect x="1223" y="450" width="3" height="6" fill="#00ff00"/>
<rect x="1228" y="453" width="1" height="11" fill="#ff0000"/>
<rect x="1227" y="455" width="3" height="6" fill="#ff0000"/>
<rect x="1232" y="451" width="1" height="6" fill="#ff0000"/>
<rect x="1231" y="452" width="3" height="4" fill="#ff0000"/>
<rect x="1236" y="445" width="1" height="20" fill="#00ff00"/>
<rect x="1235" y="453" width="3" height="10" fill="#00ff00"/>
<rect x="1240" y="447" width="1" height="17" fill="#ff0000"/>
<rect x="1239" y="453" width="3" height="10" fill="#ff0000"/>
<rect x="1244" y="450" width="1" height="6" fill="#ff0000"/>
<rect x="1243" y="452" width="3" height="2" fill="#ff0000"/>
<rect x="1248" y="444" width="1" height="11" fill="#ff0000"/>
<rect x="1247" y="450" width="3" height="3" fill="#ff0000"/>
<rect x="1252" y="446" width="1" height="6" fill="#ff0000"/>
<rect x="1251" y="446" width="3" height="5" fill="#ff0000"/>
<rect x="1256" y="444" width="1" height="10" fill="#00ff00"/>
<rect x="1255" y="445" width="3" height="7" fill="#00ff00"/>
<rect x="1260" y="449" width="1" height="27" fill="#00ff00"/>
<rect x="1259" y="452" width="3" height="6" fill="#00ff00"/>
<rect x="1264" y="439" width="1" height="23" fill="#ff0000"/>
<rect x="1263" y="454" width="3" height="4" fill="#ff0000"/>
<rect x="1268" y="452" width="1" height="12" fill="#00ff00"/>
<rect x="1267" y="455" width="3" height="4" fill="#00ff00"/>
<rect x="1272" y="455" width="1" height="10" fill="#00ff00"/>
<rect x="1271" y="458" width="3" height="2" fill="#00ff00"/>
<rect x="1276" y="455" width="1" height="9" fill="#ff0000"/>
<rect x="1275" y="456" width="3" height="4" fill="#ff0000"/>
<rect x="1280" y="456" width="1" height="4" fill="#00ff00"/>
<rect x="1279" y="456" width="3" height="4" fill="#00ff00"/>
<polyline points="4.5,101.1 8.5,99.6 12.5,98.2 16.5,97.5 20.5,96.8 24.5,96.1 28.5,95.5 32.5,94.8 36.5,94.1 40.5,95.1 44.5,96.0 48.5,97.0 52.5,97.6 56.5,97.9 60.5,98.3 64.5,99.4 68.5,101.4 72.5,104.0 76.5,106.8 80.5,110.3 84.5,114.4 88.5,118.4 92.5,122.4 96.5,126.4 100.5,130.3 104.5,133.9 108.5,137.4 112.5,142.3 116.5,147.9 120.5,154.0 124.5,160.2 128.5,165.7 132.5,169.7 136.5,174.0 140.5,178.6 144.5,183.4 148.5,188.0 152.5,192.9 156.5,198.3 160.5,202.4 164.5,206.0 168.5,209.9 172.5,213.6 176.5,217.3 180.5,220.8 184.5,224.2 188.5,227.3 192.5,230.4 196.5,233.3 200.5,236.4 204.5,238.5 208.5,240.0 212.5,241.4 216.5,243.3 220.5,245.1 224.5,246.6 228.5,248.3 232.5,249.2 236.5,249.8 240.5,250.6 244.5,251.0 248.5,252.0 252.5,254.0 256.5,255.9 260.5,257.4 264.5,258.8 268.5,260.2 272.5,261.8 276.5,264.7 280.5,266.7 284.5,268.7 288.5,270.8 292.5,273.2 296.5,275.9 300.5,278.6 304.5,280.5 308.5,282.4 312.5,283.5 316.5,284.8 320.5,285.8 324.5,287.1 328.5,288.3 332.5,289.8 336.5,291.4 340.5,293.5 344.5,295.5 348.5,297.3 352.5,298.5 356.5,299.7 360.5,300.9 364.5,302.6 368.5,304.0 372.5,305.2 376.5,306.3 380.5,307.5 384.5,309.3 388.5,311.7 392.5,313.4 396.5,313.0 400.5,313.3 404.5,313.6 408.5,313.8 412.5,313.8 416.5,313.6 420.5,314.2 424.5,314.4 428.5,314.7 432.5,315.4 436.5,315.5 440.5,315.6 444.5,316.0 448.5,317.1 452.5,318.4 456.5,320.6 460.5,322.8 464.5,324.7 468.5,326.7 472.5,328.4 476.5,330.8 480.5,333.4 484.5,335.5 488.5,337.7 492.5,339.4 496.5,341.0 500.5,341.6 504.5,341.7 508.5,341.2 512.5,341.6 516.5,342.3 520.5,343.4 524.5,344.2 528.5,345.1 532.5,345.9 536.5,346.1 540.5,345.7 544.5,346.2 548.5,346.1 552.5,346.3 556.5,346.8 560.5,347.5 564.5,347.6 568.5,347.9 572.5,347.7 576.5,346.4 580.5,344.9 584.5,343.8 588.5,343.6 592.5,344.4 596.5,344.5 600.5,344.5 604.5,344.9 608.5,345.2 612.5,345.5 616.5,347.2 620.5,350.6 624.5,354.0 628.5,357.5 632.5,361.0 636.5,364.4 640.5,367.5 644.5,371.1 648.5,374.0 652.5,377.4 656.5,381.2 660.5,384.9 664.5,387.9 668.5,391.0 672.5,393.7 676.5,396.0 680.5,398.2 684.5,401.4 688.5,403.4 692.5,404.6 696.5,406.0 700.5,407.5 704.5,408.9 708.5,409.2 712.5,409.9 716.5,410.7 720.5,411.3 724.5,411.8 728.5,412.7 732.5,413.7 736.5,414.5 740.5,414.2 744.5,413.9 748.5,413.6 752.5,413.1 756.5,413.0 760.5,412.3 764.5,411.4 768.5,410.9 772.5,410.5 776.5,410.3 780.5,411.7 784.5,413.0 788.5,414.2 792.5,415.9 796.5,417.9 800.5,420.3 804.5,421.0 808.5,422.7 812.5,425.1 816.5,426.4 820.5,427.5 824.5,428.9 828.5,430.8 832.5,432.5 836.5,434.8 840.5,437.1 844.5,439.6 848.5,441.9 852.5,443.9 856.5,444.6 860.5,445.6 864.5,446.6 868.5,447.9 872.5,449.1 876.5,449.9 880.5,451.4 884.5,452.7 888.5,454.3 892.5,456.0 896.5,457.4 900.5,458.3 904.5,458.5 908.5,459.0 912.5,459.6 916.5,460.2 920.5,460.8 924.5,462.7 928.5,463.8 932.5,464.7 936.5,466.6 940.5,468.2 944.5,470.2 948.5,471.0 952.5,470.9 956.5,471.0 960.5,471.2 964.5,471.0 968.5,470.4 972.5,469.6 976.5,469.1 980.5,468.9 984.5,468.5 988.5,468.4 992.5,467.7 996.5,467.0 1000.5,466.2 1004.5,465.9 1008.5,465.2 1012.5,464.5 1016.5,463.8 1020.5,462.4 1024.5,461.9 1028.5,462.4 1032.5,461.9 1036.5,461.5 1040.5,460.7 1044.5,458.9 1048.5,458.1 1052.5,457.9 1056.5,457.7 1060.5,457.6 1064.5,457.1 1068.5,456.9 1072.5,456.0 1076.5,454.0 1080.5,452.2 1084.5,450.5 1088.5,448.7 1092.5,447.3 1096.5,448.0 1100.5,448.1 1104.5,448.1 1108.5,447.9 1112.5,447.6 1116.5,447.7 1120.5,448.1 1124.5,448.5 1128.5,449.0 1132.5,449.2 1136.5,449.5 1140.5,450.0 1144.5,450.5 1148.5,450.1 1152.5,450.1 1156.5,450.4 1160.5,450.6 1164.5,452.1 1168.5,453.9 1172.5,454.5 1176.5,455.0 1180.5,455.7 1184.5,456.6 1188.5,457.5 1192.5,459.9 1196.5,462.7 1200.5,465.1 1204.5,467.9 1208.5,471.0 1212.5,473.1 1216.5,473.2 1220.5,473.1 1224.5,473.3 1228.5,473.4 1232.5,473.9 1236.5,474.4 1240.5,474.0 1244.5,473.4 1248.5,472.7 1252.5,472.1 1256.5,471.8 1260.5,471.4 1264.5,470.6 1268.5,470.2 1272.5,469.7 1276.5,469.0 1280.5,468.6" fill="none" stroke="#0000cd" stroke-width="1" stroke-linejoin="round"/>
<polyline points="4.5,84.3 8.5,82.3 12.5,82.1 16.5,82.6 20.5,83.1 24.5,83.2 28.5,83.4 32.5,83.6 36.5,83.7 40.5,85.9 44.5,89.6 48.5,93.3 52.5,98.1 56.5,104.2 60.5,108.9 64.5,115.4 68.5,120.5 72.5,127.0 76.5,133.5 80.5,140.3 84.5,148.1 88.5,157.3 92.5,166.5 96.5,170.8 100.5,174.4 104.5,179.0 108.5,184.1 112.5,191.6 116.5,199.6 120.5,205.5 124.5,210.5 128.5,213.9 132.5,216.4 136.5,219.0 140.5,221.5 144.5,223.6 148.5,224.4 152.5,226.6 156.5,230.4 160.5,234.4 164.5,237.8 168.5,239.3 172.5,239.9 176.5,239.8 180.5,238.9 184.5,240.7 188.5,243.8 192.5,247.8 196.5,250.6 200.5,253.7 204.5,256.3 208.5,258.2 212.5,258.8 216.5,258.6 220.5,258.1 224.5,257.5 228.5,258.4 232.5,259.9 236.5,261.8 240.5,262.1 244.5,261.3 248.5,260.2 252.5,260.9 256.5,260.8 260.5,262.0 264.5,263.8 268.5,264.7 272.5,266.2 276.5,272.6 280.5,277.6 284.5,281.6 288.5,285.7 292.5,290.0 296.5,294.1 300.5,298.0 304.5,301.9 308.5,304.7 312.5,306.9 316.5,309.4 320.5,311.7 324.5,314.0 328.5,314.8 332.5,312.5 336.5,311.4 340.5,311.1 344.5,310.3 348.5,310.0 352.5,308.3 356.5,307.1 360.5,305.8 364.5,304.6 368.5,304.1 372.5,304.7 376.5,304.7 380.5,305.8 384.5,308.9 388.5,311.7 392.5,313.5 396.5,314.4 400.5,315.8 404.5,316.6 408.5,318.5 412.5,320.1 416.5,321.3 420.5,322.8 424.5,324.3 428.5,325.1 432.5,326.4 436.5,326.5 440.5,325.0 444.5,323.2 448.5,322.7 452.5,324.0 456.5,327.1 460.5,331.0 464.5,333.7 468.5,337.6 472.5,340.1 476.5,342.7 480.5,346.3 484.5,349.0 488.5,351.9 492.5,355.8 496.5,359.1 500.5,360.7 504.5,361.6 508.5,360.7 512.5,358.3 516.5,356.2 520.5,355.8 524.5,354.2 528.5,354.3 532.5,352.5 536.5,348.7 540.5,344.7 544.5,342.6 548.5,339.5 552.5,337.8 556.5,337.7 560.5,337.6 564.5,336.9 568.5,336.3 572.5,335.5 576.5,333.6 580.5,332.5 584.5,330.8 588.5,332.7 592.5,336.4 596.5,340.1 600.5,342.6 604.5,346.3 608.5,349.7 612.5,353.0 616.5,358.5 620.5,367.0 624.5,374.6 628.5,381.6 632.5,389.5 636.5,397.9 640.5,406.6 644.5,413.1 648.5,417.7 652.5,423.0 656.5,427.4 660.5,430.6 664.5,434.1 668.5,437.0 672.5,437.4 676.5,435.0 680.5,432.3 684.5,430.9 688.5,427.2 692.5,421.6 696.5,416.1 700.5,410.5 704.5,405.5 708.5,400.8 712.5,397.9 716.5,395.2 720.5,392.7 724.5,390.8 728.5,390.3 732.5,390.9 736.5,393.4 740.5,394.5 744.5,397.2 748.5,401.0 752.5,404.9 756.5,409.5 760.5,414.0 764.5,418.0 768.5,419.8 772.5,422.7 776.5,425.3 780.5,430.4 784.5,434.9 788.5,438.1 792.5,440.5 796.5,443.0 800.5,445.9 804.5,446.8 808.5,447.7 812.5,447.6 816.5,446.2 820.5,445.0 824.5,444.1 828.5,444.3 832.5,445.4 836.5,444.7 840.5,444.2 844.5,445.3 848.5,445.9 852.5,446.8 856.5,445.5 860.5,447.0 864.5,448.4 868.5,449.8 872.5,453.6 876.5,457.5 880.5,462.1 884.5,464.8 888.5,466.7 892.5,468.1 896.5,468.8 900.5,470.5 904.5,470.6 908.5,470.3 912.5,472.6 916.5,474.4 920.5,476.3 924.5,478.5 928.5,479.3 932.5,479.3 936.5,478.7 940.5,478.2 944.5,478.1 948.5,476.3 952.5,474.3 956.5,471.9 960.5,471.4 964.5,471.0 968.5,469.0 972.5,466.9 976.5,463.3 980.5,460.3 984.5,458.4 988.5,457.7 992.5,456.1 996.5,455.0 1000.5,453.5 1004.5,453.9 1008.5,454.5 1012.5,454.2 1016.5,452.8 1020.5,452.3 1024.5,452.6 1028.5,454.8 1032.5,457.2 1036.5,458.5 1040.5,459.6 1044.5,458.2 1048.5,458.6 1052.5,459.8 1056.5,460.6 1060.5,460.5 1064.5,460.7 1068.5,459.9 1072.5,457.5 1076.5,453.7 1080.5,450.6 1084.5,445.5 1088.5,440.7 1092.5,436.5 1096.5,436.1 1100.5,437.1 1104.5,437.1 1108.5,436.1 1112.5,434.4 1116.5,433.7 1120.5,434.2 1124.5,435.9 1128.5,439.5 1132.5,443.9 1136.5,447.0 1140.5,451.2 1144.5,456.4 1148.5,460.8 1152.5,461.7 1156.5,463.4 1160.5,464.9 1164.5,467.4 1168.5,472.2 1172.5,474.4 1176.5,475.5 1180.5,476.0 1184.5,477.0 1188.5,477.7 1192.5,479.9 1196.5,480.9 1200.5,481.9 1204.5,483.8 1208.5,485.4 1212.5,485.2 1216.5,484.5 1220.5,482.1 1224.5,478.5 1228.5,476.7 1232.5,474.8 1236.5,473.7 1240.5,471.6 1244.5,469.9 1248.5,467.0 1252.5,464.1 1256.5,461.4 1260.5,458.5 1264.5,455.6 1268.5,454.5 1272.5,454.3 1276.5,454.7 1280.5,455.0" fill="none" stroke="#ff0000" stroke-width="1" stroke-linejoin="round"/>
<polyline points="4.5,70.0 8.5,68.5 12.5,73.0 16.5,78.3 20.5,84.4 24.5,91.4 28.5,96.0 32.5,91.3 36.5,89.7 40.5,97.5 44.5,107.8 48.5,117.4 52.5,128.4 56.5,137.0 60.5,134.6 64.5,137.6 68.5,144.5 72.5,155.1 76.5,166.5 80.5,179.3 84.5,187.5 88.5,194.4 92.5,200.1 96.5,201.9 100.5,203.3 104.5,203.8 108.5,203.4 112.5,207.4 116.5,215.3 120.5,224.7 124.5,232.6 128.5,238.4 132.5,236.1 136.5,233.5 140.5,232.4 144.5,231.1 148.5,229.7 152.5,230.3 156.5,235.3 160.5,239.9 164.5,243.4 168.5,249.1 172.5,252.6 176.5,251.2 180.5,245.1 184.5,246.6 188.5,248.6 192.5,255.6 196.5,262.4 200.5,272.8 204.5,273.2 208.5,270.6 212.5,266.1 216.5,262.3 220.5,255.5 224.5,252.4 228.5,253.2 232.5,254.2 236.5,254.0 240.5,258.0 244.5,259.3 248.5,260.6 252.5,265.2 256.5,270.1 260.5,272.9 264.5,277.6 268.5,278.8 272.5,277.3 276.5,288.3 280.5,295.9 284.5,303.3 288.5,313.0 292.5,320.6 296.5,318.4 300.5,316.5 304.5,317.4 308.5,318.5 312.5,317.4 316.5,315.7 320.5,316.0 324.5,312.6 328.5,305.5 332.5,304.1 336.5,301.7 340.5,301.7 344.5,302.6 348.5,307.2 352.5,306.5 356.5,304.2 360.5,302.3 364.5,302.3 368.5,300.9 372.5,305.6 376.5,309.3 380.5,312.7 384.5,317.8 388.5,325.3 392.5,326.4 396.5,328.9 400.5,330.7 404.5,328.7 408.5,325.6 412.5,322.8 416.5,321.7 420.5,321.9 424.5,322.5 428.5,323.9 432.5,326.8 436.5,327.3 440.5,324.1 444.5,322.0 448.5,319.6 452.5,322.0 456.5,332.4 460.5,345.3 464.5,355.0 468.5,364.7 472.5,366.8 476.5,365.5 480.5,365.5 484.5,366.7 488.5,367.0 492.5,371.5 496.5,370.0 500.5,362.3 504.5,355.0 508.5,346.5 512.5,339.4 516.5,337.0 520.5,341.4 524.5,344.1 528.5,348.9 532.5,349.1 536.5,344.6 540.5,335.5 544.5,334.4 548.5,330.0 552.5,329.0 556.5,331.6 560.5,335.1 564.5,330.5 568.5,330.5 572.5,330.5 576.5,330.0 580.5,329.7 584.5,332.0 588.5,339.0 592.5,347.3 596.5,353.6 600.5,362.9 604.5,373.1 608.5,376.5 612.5,378.0 616.5,386.7 620.5,398.8 624.5,409.8 628.5,420.0 632.5,432.1 636.5,439.9 640.5,442.7 644.5,447.0 648.5,448.1 652.5,447.5 656.5,445.7 660.5,440.5 664.5,435.3 668.5,432.1 672.5,426.9 676.5,420.2 680.5,414.6 684.5,410.9 688.5,404.6 692.5,395.8 696.5,389.7 700.5,385.7 704.5,377.1 708.5,373.8 712.5,379.4 716.5,382.0 720.5,385.6 724.5,390.9 728.5,397.5 732.5,400.4 736.5,409.6 740.5,415.8 744.5,422.4 748.5,425.6 752.5,428.9 756.5,430.8 760.5,431.7 764.5,432.0 768.5,432.0 772.5,431.7 776.5,429.7 780.5,437.0 784.5,444.9 788.5,451.5 792.5,459.5 796.5,465.4 800.5,465.8 804.5,458.8 808.5,456.0 812.5,450.8 816.5,440.8 820.5,429.3 824.5,424.5 828.5,422.2 832.5,423.5 836.5,432.5 840.5,442.9 844.5,454.9 848.5,463.9 852.5,469.2 856.5,468.2 860.5,466.6 864.5,464.7 868.5,461.7 872.5,460.1 876.5,462.9 880.5,466.9 884.5,468.2 888.5,470.9 892.5,473.1 896.5,474.5 900.5,478.3 904.5,480.2 908.5,479.3 912.5,480.7 916.5,482.3 920.5,480.9 924.5,483.8 928.5,485.2 932.5,481.7 936.5,479.0 940.5,473.4 944.5,469.6 948.5,464.8 952.5,460.3 956.5,459.2 960.5,461.3 964.5,459.4 968.5,460.3 972.5,461.8 976.5,456.8 980.5,452.5 984.5,450.0 988.5,449.8 992.5,448.6 996.5,450.2 1000.5,450.5 1004.5,452.2 1008.5,451.6 1012.5,454.1 1016.5,455.3 1020.5,456.0 1024.5,456.5 1028.5,462.6 1032.5,465.1 1036.5,468.5 1040.5,470.5 1044.5,465.8 1048.5,459.2 1052.5,457.5 1056.5,456.4 1060.5,454.9 1064.5,458.4 1068.5,457.7 1072.5,448.8 1076.5,436.8 1080.5,428.7 1084.5,420.1 1088.5,411.3 1092.5,409.6 1096.5,421.0 1100.5,428.0 1104.5,435.7 1108.5,444.8 1112.5,450.5 1116.5,448.3 1120.5,450.3 1124.5,454.5 1128.5,458.1 1132.5,463.5 1136.5,465.9 1140.5,467.5 1144.5,468.5 1148.5,469.3 1152.5,470.7 1156.5,473.9 1160.5,474.2 1164.5,475.5 1168.5,482.3 1172.5,483.8 1176.5,484.2 1180.5,485.5 1184.5,485.2 1188.5,479.1 1192.5,481.2 1196.5,482.6 1200.5,485.0 1204.5,488.2 1208.5,492.2 1212.5,488.8 1216.5,484.2 1220.5,476.1 1224.5,467.7 1228.5,459.6 1232.5,455.3 1236.5,455.2 1240.5,455.8 1244.5,455.0 1248.5,454.0 1252.5,452.7 1256.5,450.6 1260.5,451.6 1264.5,452.0 1268.5,453.8 1272.5,456.7 1276.5,457.3 1280.5,457.8" fill="none" stroke="#ffa500" stroke-width="1" stroke-linejoin="round"/>
<rect x="4" y="211" width="1608" height="2" fill="#ff0000"/>
<rect x="4" y="308" width="1608" height="2" fill="#ff0000"/>
<rect x="4" y="399" width="1608" height="2" fill="#00ff00"/>
<rect x="4" y="492" width="1608" height="2" fill="#0000ff"/>
<rect x="3" y="306" width="6" height="6" fill="#ff0000"/><rect x="5" y="308" width="2" height="2" fill="#fff"/>
<rect x="1606" y="306" width="6" height="6" fill="#ff0000"/><rect x="1608" y="308" width="2" height="2" fill="#fff"/>
<rect x="3" y="490" width="6" height="6" fill="#0000ff"/><rect x="5" y="492" width="2" height="2" fill="#fff"/>
<rect x="1606" y="490" width="6" height="6" fill="#0000ff"/><rect x="1608" y="492" width="2" height="2" fill="#fff"/>
<rect x="1614" y="206" width="40" height="11" fill="#ff0000"/>
<text x="1618" y="215" font-size="9.4" fill="#fff" text-anchor="start" textLength="33" lengthAdjust="spacingAndGlyphs" stroke="#fff" stroke-width="0.15">0.92775</text>
<rect x="1614" y="303" width="40" height="11" fill="#ff0000"/>
<text x="1618" y="312" font-size="9.4" fill="#fff" text-anchor="start" textLength="33" lengthAdjust="spacingAndGlyphs" stroke="#fff" stroke-width="0.15">0.91618</text>
<rect x="1614" y="394" width="40" height="11" fill="#00ff00"/>
<text x="1618" y="403" font-size="9.4" fill="#fff" text-anchor="start" textLength="33" lengthAdjust="spacingAndGlyphs" stroke="#fff" stroke-width="0.15">0.90539</text>
<rect x="1614" y="455" width="40" height="11" fill="#000000"/>
<text x="1618" y="464" font-size="9.4" fill="#fff" text-anchor="start" textLength="33" lengthAdjust="spacingAndGlyphs" stroke="#fff" stroke-width="0.15">0.89822</text>
<rect x="1614" y="487" width="40" height="11" fill="#0000ff"/>
<text x="1618" y="496" font-size="9.4" fill="#fff" text-anchor="start" textLength="33" lengthAdjust="spacingAndGlyphs" stroke="#fff" stroke-width="0.15">0.89427</text>
<path d="M7 31 L14 31 L10.5 35 Z" fill="#000"/>
<text x="19" y="36" font-size="10" fill="#000" text-anchor="start" textLength="55" lengthAdjust="spacingAndGlyphs" stroke="#000" stroke-width="0.3">USDCHF,H4</text>
<text x="79.8" y="36" font-size="10" fill="#000" text-anchor="start" textLength="32.7" lengthAdjust="spacingAndGlyphs" stroke="#000" stroke-width="0.3">0.89864</text>
<text x="116" y="36" font-size="10" fill="#000" text-anchor="start" textLength="32.7" lengthAdjust="spacingAndGlyphs" stroke="#000" stroke-width="0.3">0.89864</text>
<text x="151.9" y="36" font-size="10" fill="#000" text-anchor="start" textLength="32.6" lengthAdjust="spacingAndGlyphs" stroke="#000" stroke-width="0.3">0.89820</text>
<text x="187.9" y="36" font-size="10" fill="#000" text-anchor="start" textLength="32.6" lengthAdjust="spacingAndGlyphs" stroke="#000" stroke-width="0.3">0.89822</text>
<line x1="4" y1="550.5" x2="1612" y2="550.5" stroke="#c0c0c0" stroke-width="1" stroke-dasharray="3,3"/>
<line x1="4" y1="586.5" x2="1612" y2="586.5" stroke="#c0c0c0" stroke-width="1" stroke-dasharray="3,3"/>
<polyline points="4.5,550.7 8.5,560.0 12.5,569.1 16.5,567.7 20.5,567.9 24.5,566.1 28.5,564.0 32.5,561.3 36.5,565.5 40.5,578.8 44.5,580.8 48.5,580.1 52.5,577.3 56.5,577.3 60.5,573.9 64.5,581.6 68.5,584.9 72.5,587.2 76.5,587.4 80.5,587.6 84.5,589.1 88.5,590.6 92.5,591.8 96.5,583.5 100.5,582.5 104.5,584.0 108.5,585.7 112.5,590.4 116.5,590.5 120.5,591.4 124.5,591.5 128.5,587.5 132.5,582.5 136.5,582.3 140.5,584.6 144.5,585.4 148.5,581.5 152.5,580.6 156.5,587.5 160.5,586.7 164.5,585.8 168.5,586.4 172.5,580.4 176.5,577.6 180.5,573.6 184.5,580.8 188.5,582.3 192.5,585.4 196.5,585.2 200.5,586.0 204.5,578.2 208.5,573.6 212.5,574.5 216.5,574.5 220.5,570.6 224.5,571.5 228.5,574.4 232.5,576.5 236.5,572.1 240.5,577.4 244.5,571.6 248.5,575.4 252.5,580.9 256.5,579.0 260.5,579.0 264.5,579.0 268.5,573.6 272.5,576.4 276.5,589.7 280.5,584.2 284.5,582.5 288.5,582.7 292.5,582.8 296.5,583.0 300.5,578.6 304.5,580.0 308.5,581.5 312.5,576.6 316.5,577.5 320.5,576.5 324.5,572.6 328.5,566.7 332.5,572.2 336.5,572.3 340.5,574.2 344.5,572.3 348.5,574.2 352.5,569.3 356.5,566.9 360.5,569.3 364.5,571.9 368.5,571.3 372.5,577.3 376.5,572.3 380.5,574.3 384.5,578.9 388.5,581.3 392.5,575.9 396.5,573.3 400.5,574.3 404.5,573.3 408.5,574.2 412.5,569.3 416.5,569.4 420.5,574.3 424.5,574.3 428.5,576.2 432.5,574.2 436.5,569.2 440.5,566.3 444.5,567.4 448.5,571.5 452.5,579.2 456.5,586.0 460.5,587.2 464.5,581.5 468.5,582.0 472.5,575.6 476.5,578.4 480.5,581.3 484.5,581.2 488.5,579.3 492.5,578.9 496.5,571.9 500.5,565.2 504.5,564.1 508.5,562.6 512.5,566.4 516.5,568.7 520.5,573.9 524.5,569.4 528.5,570.0 532.5,565.9 536.5,561.1 540.5,560.0 544.5,568.1 548.5,565.4 552.5,566.3 556.5,566.2 560.5,564.9 564.5,561.9 568.5,567.4 572.5,568.2 576.5,567.2 580.5,566.3 584.5,567.4 588.5,577.6 592.5,579.9 596.5,576.6 600.5,579.0 604.5,579.9 608.5,580.4 612.5,582.0 616.5,587.5 620.5,591.9 624.5,592.0 628.5,590.4 632.5,591.4 636.5,592.4 640.5,593.4 644.5,593.0 648.5,584.4 652.5,585.5 656.5,583.7 660.5,577.3 664.5,578.3 668.5,578.1 672.5,571.2 676.5,567.8 680.5,565.6 684.5,570.9 688.5,563.9 692.5,557.4 696.5,559.3 700.5,560.2 704.5,558.4 708.5,560.8 712.5,569.1 716.5,565.5 720.5,569.3 724.5,569.4 728.5,572.0 732.5,573.7 736.5,578.8 740.5,577.3 744.5,577.2 748.5,576.4 752.5,578.5 756.5,580.9 760.5,576.2 764.5,575.1 768.5,572.4 772.5,574.4 776.5,576.2 780.5,584.5 784.5,585.6 788.5,579.6 792.5,582.1 796.5,580.5 800.5,581.0 804.5,569.5 808.5,571.2 812.5,569.5 816.5,562.3 820.5,562.2 824.5,561.9 828.5,567.9 832.5,572.5 836.5,574.5 840.5,576.5 844.5,578.5 848.5,580.3 852.5,579.2 856.5,571.4 860.5,572.5 864.5,574.3 868.5,574.4 872.5,575.3 876.5,575.7 880.5,577.9 884.5,575.6 888.5,577.4 892.5,578.0 896.5,577.3 900.5,581.9 904.5,575.5 908.5,572.0 912.5,576.1 916.5,575.6 920.5,577.4 924.5,577.3 928.5,571.1 932.5,567.3 936.5,566.9 940.5,566.2 944.5,569.1 948.5,562.8 952.5,561.5 956.5,567.8 960.5,569.8 964.5,566.9 968.5,565.1 972.5,563.4 976.5,560.0 980.5,563.2 984.5,564.3 988.5,567.2 992.5,563.4 996.5,563.3 1000.5,565.3 1004.5,568.3 1008.5,567.3 1012.5,568.3 1016.5,565.3 1020.5,566.3 1024.5,571.3 1028.5,578.3 1032.5,572.3 1036.5,571.3 1040.5,569.9 1044.5,560.3 1048.5,566.3 1052.5,569.3 1056.5,569.3 1060.5,567.9 1064.5,566.2 1068.5,563.7 1072.5,555.9 1076.5,551.5 1080.5,557.3 1084.5,556.3 1088.5,554.5 1092.5,557.7 1096.5,572.9 1100.5,571.2 1104.5,570.3 1108.5,570.1 1112.5,567.4 1116.5,569.5 1120.5,574.4 1124.5,576.2 1128.5,575.2 1132.5,574.2 1136.5,572.5 1140.5,575.4 1144.5,577.2 1148.5,576.2 1152.5,575.4 1156.5,576.2 1160.5,575.5 1164.5,578.8 1168.5,584.6 1172.5,573.3 1176.5,573.3 1180.5,573.3 1184.5,573.1 1188.5,571.7 1192.5,576.2 1196.5,575.3 1200.5,575.6 1204.5,579.3 1208.5,578.1 1212.5,566.9 1216.5,562.9 1220.5,559.5 1224.5,561.3 1228.5,561.2 1232.5,560.8 1236.5,564.9 1240.5,561.3 1244.5,561.2 1248.5,560.1 1252.5,558.8 1256.5,562.3 1260.5,565.2 1264.5,564.5 1268.5,566.1 1272.5,567.0 1276.5,565.4 1280.5,566.3" fill="none" stroke="#1e90ff" stroke-width="1" stroke-linejoin="round"/>
<text x="8" y="535" font-size="9.6" fill="#000" text-anchor="start" textLength="68" lengthAdjust="spacingAndGlyphs" stroke="#000" stroke-width="0.3">RSI(14) 51.0336</text>
<rect x="1613" y="524" width="3" height="1" fill="#000"/>
<text x="1616" y="533" font-size="9.6" fill="#000" text-anchor="start" textLength="14" lengthAdjust="spacingAndGlyphs" stroke="#000" stroke-width="0.2">100</text>
<text x="1616" y="554" font-size="9.6" fill="#000" text-anchor="start" textLength="9.5" lengthAdjust="spacingAndGlyphs" stroke="#000" stroke-width="0.2">70</text>
<text x="1616" y="590" font-size="9.6" fill="#000" text-anchor="start" textLength="9.5" lengthAdjust="spacingAndGlyphs" stroke="#000" stroke-width="0.2">30</text>
<text x="1616" y="610" font-size="9.6" fill="#000" text-anchor="start" textLength="5" lengthAdjust="spacingAndGlyphs" stroke="#000" stroke-width="0.2">0</text>
<rect x="4" y="623" width="1" height="28" fill="#c0c0c0"/>
<rect x="8" y="626" width="1" height="25" fill="#c0c0c0"/>
<rect x="12" y="628" width="1" height="23" fill="#c0c0c0"/>
<rect x="16" y="631" width="1" height="20" fill="#c0c0c0"/>
<rect x="20" y="633" width="1" height="18" fill="#c0c0c0"/>
<rect x="24" y="636" width="1" height="15" fill="#c0c0c0"/>
<rect x="28" y="638" width="1" height="13" fill="#c0c0c0"/>
<rect x="32" y="638" width="1" height="13" fill="#c0c0c0"/>
<rect x="36" y="639" width="1" height="12" fill="#c0c0c0"/>
<rect x="40" y="646" width="1" height="5" fill="#c0c0c0"/>
<rect x="48" y="650" width="1" height="7" fill="#c0c0c0"/>
<rect x="52" y="650" width="1" height="10" fill="#c0c0c0"/>
<rect x="56" y="650" width="1" height="12" fill="#c0c0c0"/>
<rect x="60" y="650" width="1" height="12" fill="#c0c0c0"/>
<rect x="64" y="650" width="1" height="17" fill="#c0c0c0"/>
<rect x="68" y="650" width="1" height="22" fill="#c0c0c0"/>
<rect x="72" y="650" width="1" height="27" fill="#c0c0c0"/>
<rect x="76" y="650" width="1" height="31" fill="#c0c0c0"/>
<rect x="80" y="650" width="1" height="35" fill="#c0c0c0"/>
<rect x="84" y="650" width="1" height="38" fill="#c0c0c0"/>
<rect x="88" y="650" width="1" height="40" fill="#c0c0c0"/>
<rect x="92" y="650" width="1" height="44" fill="#c0c0c0"/>
<rect x="96" y="650" width="1" height="45" fill="#c0c0c0"/>
<rect x="100" y="650" width="1" height="43" fill="#c0c0c0"/>
<rect x="104" y="650" width="1" height="44" fill="#c0c0c0"/>
<rect x="108" y="650" width="1" height="44" fill="#c0c0c0"/>
<rect x="112" y="650" width="1" height="46" fill="#c0c0c0"/>
<rect x="116" y="650" width="1" height="48" fill="#c0c0c0"/>
<rect x="120" y="650" width="1" height="50" fill="#c0c0c0"/>
<rect x="124" y="650" width="1" height="50" fill="#c0c0c0"/>
<rect x="128" y="650" width="1" height="50" fill="#c0c0c0"/>
<rect x="132" y="650" width="1" height="47" fill="#c0c0c0"/>
<rect x="136" y="650" width="1" height="46" fill="#c0c0c0"/>
<rect x="140" y="650" width="1" height="44" fill="#c0c0c0"/>
<rect x="144" y="650" width="1" height="42" fill="#c0c0c0"/>
<rect x="148" y="650" width="1" height="40" fill="#c0c0c0"/>
<rect x="152" y="650" width="1" height="38" fill="#c0c0c0"/>
<rect x="156" y="650" width="1" height="37" fill="#c0c0c0"/>
<rect x="160" y="650" width="1" height="37" fill="#c0c0c0"/>
<rect x="164" y="650" width="1" height="36" fill="#c0c0c0"/>
<rect x="168" y="650" width="1" height="35" fill="#c0c0c0"/>
<rect x="172" y="650" width="1" height="34" fill="#c0c0c0"/>
<rect x="176" y="650" width="1" height="32" fill="#c0c0c0"/>
<rect x="180" y="650" width="1" height="30" fill="#c0c0c0"/>
<rect x="184" y="650" width="1" height="31" fill="#c0c0c0"/>
<rect x="188" y="650" width="1" height="31" fill="#c0c0c0"/>
<rect x="192" y="650" width="1" height="32" fill="#c0c0c0"/>
<rect x="196" y="650" width="1" height="31" fill="#c0c0c0"/>
<rect x="200" y="650" width="1" height="29" fill="#c0c0c0"/>
<rect x="204" y="650" width="1" height="29" fill="#c0c0c0"/>
<rect x="208" y="650" width="1" height="27" fill="#c0c0c0"/>
<rect x="212" y="650" width="1" height="25" fill="#c0c0c0"/>
<rect x="216" y="650" width="1" height="23" fill="#c0c0c0"/>
<rect x="220" y="650" width="1" height="21" fill="#c0c0c0"/>
<rect x="224" y="650" width="1" height="19" fill="#c0c0c0"/>
<rect x="228" y="650" width="1" height="18" fill="#c0c0c0"/>
<rect x="232" y="650" width="1" height="17" fill="#c0c0c0"/>
<rect x="236" y="650" width="1" height="16" fill="#c0c0c0"/>
<rect x="240" y="650" width="1" height="15" fill="#c0c0c0"/>
<rect x="244" y="650" width="1" height="15" fill="#c0c0c0"/>
<rect x="248" y="650" width="1" height="14" fill="#c0c0c0"/>
<rect x="252" y="650" width="1" height="15" fill="#c0c0c0"/>
<rect x="256" y="650" width="1" height="17" fill="#c0c0c0"/>
<rect x="260" y="650" width="1" height="18" fill="#c0c0c0"/>
<rect x="264" y="650" width="1" height="17" fill="#c0c0c0"/>
<rect x="268" y="650" width="1" height="16" fill="#c0c0c0"/>
<rect x="272" y="650" width="1" height="16" fill="#c0c0c0"/>
<rect x="276" y="650" width="1" height="24" fill="#c0c0c0"/>
<rect x="280" y="650" width="1" height="28" fill="#c0c0c0"/>
<rect x="284" y="650" width="1" height="30" fill="#c0c0c0"/>
<rect x="288" y="650" width="1" height="30" fill="#c0c0c0"/>
<rect x="292" y="650" width="1" height="31" fill="#c0c0c0"/>
<rect x="296" y="650" width="1" height="31" fill="#c0c0c0"/>
<rect x="300" y="650" width="1" height="31" fill="#c0c0c0"/>
<rect x="304" y="650" width="1" height="30" fill="#c0c0c0"/>
<rect x="308" y="650" width="1" height="29" fill="#c0c0c0"/>
<rect x="312" y="650" width="1" height="27" fill="#c0c0c0"/>
<rect x="316" y="650" width="1" height="25" fill="#c0c0c0"/>
<rect x="320" y="650" width="1" height="24" fill="#c0c0c0"/>
<rect x="324" y="650" width="1" height="21" fill="#c0c0c0"/>
<rect x="328" y="650" width="1" height="18" fill="#c0c0c0"/>
<rect x="332" y="650" width="1" height="17" fill="#c0c0c0"/>
<rect x="336" y="650" width="1" height="15" fill="#c0c0c0"/>
<rect x="340" y="650" width="1" height="14" fill="#c0c0c0"/>
<rect x="344" y="650" width="1" height="13" fill="#c0c0c0"/>
<rect x="348" y="650" width="1" height="13" fill="#c0c0c0"/>
<rect x="352" y="650" width="1" height="11" fill="#c0c0c0"/>
<rect x="356" y="650" width="1" height="9" fill="#c0c0c0"/>
<rect x="360" y="650" width="1" height="8" fill="#c0c0c0"/>
<rect x="364" y="650" width="1" height="8" fill="#c0c0c0"/>
<rect x="368" y="650" width="1" height="8" fill="#c0c0c0"/>
<rect x="372" y="650" width="1" height="13" fill="#c0c0c0"/>
<rect x="376" y="650" width="1" height="13" fill="#c0c0c0"/>
<rect x="380" y="650" width="1" height="14" fill="#c0c0c0"/>
<rect x="384" y="650" width="1" height="15" fill="#c0c0c0"/>
<rect x="388" y="650" width="1" height="15" fill="#c0c0c0"/>
<rect x="392" y="650" width="1" height="16" fill="#c0c0c0"/>
<rect x="396" y="650" width="1" height="15" fill="#c0c0c0"/>
<rect x="400" y="650" width="1" height="14" fill="#c0c0c0"/>
<rect x="404" y="650" width="1" height="13" fill="#c0c0c0"/>
<rect x="408" y="650" width="1" height="13" fill="#c0c0c0"/>
<rect x="412" y="650" width="1" height="13" fill="#c0c0c0"/>
<rect x="416" y="650" width="1" height="10" fill="#c0c0c0"/>
<rect x="420" y="650" width="1" height="9" fill="#c0c0c0"/>
<rect x="424" y="650" width="1" height="10" fill="#c0c0c0"/>
<rect x="428" y="650" width="1" height="11" fill="#c0c0c0"/>
<rect x="432" y="650" width="1" height="11" fill="#c0c0c0"/>
<rect x="436" y="650" width="1" height="9" fill="#c0c0c0"/>
<rect x="440" y="650" width="1" height="7" fill="#c0c0c0"/>
<rect x="444" y="650" width="1" height="5" fill="#c0c0c0"/>
<rect x="448" y="650" width="1" height="6" fill="#c0c0c0"/>
<rect x="452" y="650" width="1" height="9" fill="#c0c0c0"/>
<rect x="456" y="650" width="1" height="14" fill="#c0c0c0"/>
<rect x="460" y="650" width="1" height="18" fill="#c0c0c0"/>
<rect x="464" y="650" width="1" height="21" fill="#c0c0c0"/>
<rect x="468" y="650" width="1" height="23" fill="#c0c0c0"/>
<rect x="472" y="650" width="1" height="22" fill="#c0c0c0"/>
<rect x="476" y="650" width="1" height="22" fill="#c0c0c0"/>
<rect x="480" y="650" width="1" height="24" fill="#c0c0c0"/>
<rect x="484" y="650" width="1" height="25" fill="#c0c0c0"/>
<rect x="488" y="650" width="1" height="25" fill="#c0c0c0"/>
<rect x="492" y="650" width="1" height="25" fill="#c0c0c0"/>
<rect x="496" y="650" width="1" height="23" fill="#c0c0c0"/>
<rect x="500" y="650" width="1" height="18" fill="#c0c0c0"/>
<rect x="504" y="650" width="1" height="14" fill="#c0c0c0"/>
<rect x="508" y="650" width="1" height="10" fill="#c0c0c0"/>
<rect x="512" y="650" width="1" height="7" fill="#c0c0c0"/>
<rect x="516" y="650" width="1" height="7" fill="#c0c0c0"/>
<rect x="520" y="650" width="1" height="7" fill="#c0c0c0"/>
<rect x="524" y="650" width="1" height="7" fill="#c0c0c0"/>
<rect x="528" y="650" width="1" height="6" fill="#c0c0c0"/>
<rect x="532" y="650" width="1" height="4" fill="#c0c0c0"/>
<rect x="540" y="648" width="1" height="3" fill="#c0c0c0"/>
<rect x="548" y="648" width="1" height="3" fill="#c0c0c0"/>
<rect x="552" y="647" width="1" height="4" fill="#c0c0c0"/>
<rect x="556" y="646" width="1" height="5" fill="#c0c0c0"/>
<rect x="560" y="646" width="1" height="5" fill="#c0c0c0"/>
<rect x="564" y="645" width="1" height="6" fill="#c0c0c0"/>
<rect x="568" y="645" width="1" height="6" fill="#c0c0c0"/>
<rect x="572" y="645" width="1" height="6" fill="#c0c0c0"/>
<rect x="576" y="646" width="1" height="5" fill="#c0c0c0"/>
<rect x="580" y="647" width="1" height="4" fill="#c0c0c0"/>
<rect x="584" y="647" width="1" height="4" fill="#c0c0c0"/>
<rect x="592" y="650" width="1" height="5" fill="#c0c0c0"/>
<rect x="596" y="650" width="1" height="7" fill="#c0c0c0"/>
<rect x="600" y="650" width="1" height="11" fill="#c0c0c0"/>
<rect x="604" y="650" width="1" height="14" fill="#c0c0c0"/>
<rect x="608" y="650" width="1" height="16" fill="#c0c0c0"/>
<rect x="612" y="650" width="1" height="18" fill="#c0c0c0"/>
<rect x="616" y="650" width="1" height="22" fill="#c0c0c0"/>
<rect x="620" y="650" width="1" height="29" fill="#c0c0c0"/>
<rect x="624" y="650" width="1" height="35" fill="#c0c0c0"/>
<rect x="628" y="650" width="1" height="37" fill="#c0c0c0"/>
<rect x="632" y="650" width="1" height="41" fill="#c0c0c0"/>
<rect x="636" y="650" width="1" height="43" fill="#c0c0c0"/>
<rect x="640" y="650" width="1" height="46" fill="#c0c0c0"/>
<rect x="644" y="650" width="1" height="47" fill="#c0c0c0"/>
<rect x="648" y="650" width="1" height="45" fill="#c0c0c0"/>
<rect x="652" y="650" width="1" height="45" fill="#c0c0c0"/>
<rect x="656" y="650" width="1" height="42" fill="#c0c0c0"/>
<rect x="660" y="650" width="1" height="40" fill="#c0c0c0"/>
<rect x="664" y="650" width="1" height="37" fill="#c0c0c0"/>
<rect x="668" y="650" width="1" height="34" fill="#c0c0c0"/>
<rect x="672" y="650" width="1" height="30" fill="#c0c0c0"/>
<rect x="676" y="650" width="1" height="25" fill="#c0c0c0"/>
<rect x="680" y="650" width="1" height="20" fill="#c0c0c0"/>
<rect x="684" y="650" width="1" height="18" fill="#c0c0c0"/>
<rect x="688" y="650" width="1" height="13" fill="#c0c0c0"/>
<rect x="692" y="650" width="1" height="6" fill="#c0c0c0"/>
<rect x="700" y="649" width="1" height="2" fill="#c0c0c0"/>
<rect x="704" y="645" width="1" height="6" fill="#c0c0c0"/>
<rect x="708" y="643" width="1" height="8" fill="#c0c0c0"/>
<rect x="712" y="645" width="1" height="6" fill="#c0c0c0"/>
<rect x="716" y="646" width="1" height="5" fill="#c0c0c0"/>
<rect x="720" y="646" width="1" height="5" fill="#c0c0c0"/>
<rect x="724" y="648" width="1" height="3" fill="#c0c0c0"/>
<rect x="736" y="650" width="1" height="5" fill="#c0c0c0"/>
<rect x="740" y="650" width="1" height="8" fill="#c0c0c0"/>
<rect x="744" y="650" width="1" height="9" fill="#c0c0c0"/>
<rect x="748" y="650" width="1" height="10" fill="#c0c0c0"/>
<rect x="752" y="650" width="1" height="12" fill="#c0c0c0"/>
<rect x="756" y="650" width="1" height="16" fill="#c0c0c0"/>
<rect x="760" y="650" width="1" height="16" fill="#c0c0c0"/>
<rect x="764" y="650" width="1" height="15" fill="#c0c0c0"/>
<rect x="768" y="650" width="1" height="14" fill="#c0c0c0"/>
<rect x="772" y="650" width="1" height="14" fill="#c0c0c0"/>
<rect x="776" y="650" width="1" height="14" fill="#c0c0c0"/>
<rect x="780" y="650" width="1" height="18" fill="#c0c0c0"/>
<rect x="784" y="650" width="1" height="23" fill="#c0c0c0"/>
<rect x="788" y="650" width="1" height="24" fill="#c0c0c0"/>
<rect x="792" y="650" width="1" height="25" fill="#c0c0c0"/>
<rect x="796" y="650" width="1" height="26" fill="#c0c0c0"/>
<rect x="800" y="650" width="1" height="27" fill="#c0c0c0"/>
<rect x="804" y="650" width="1" height="25" fill="#c0c0c0"/>
<rect x="808" y="650" width="1" height="21" fill="#c0c0c0"/>
<rect x="812" y="650" width="1" height="18" fill="#c0c0c0"/>
<rect x="816" y="650" width="1" height="13" fill="#c0c0c0"/>
<rect x="820" y="650" width="1" height="8" fill="#c0c0c0"/>
<rect x="824" y="650" width="1" height="4" fill="#c0c0c0"/>
<rect x="828" y="650" width="1" height="3" fill="#c0c0c0"/>
<rect x="832" y="650" width="1" height="6" fill="#c0c0c0"/>
<rect x="836" y="650" width="1" height="8" fill="#c0c0c0"/>
<rect x="840" y="650" width="1" height="12" fill="#c0c0c0"/>
<rect x="844" y="650" width="1" height="15" fill="#c0c0c0"/>
<rect x="848" y="650" width="1" height="16" fill="#c0c0c0"/>
<rect x="852" y="650" width="1" height="18" fill="#c0c0c0"/>
<rect x="856" y="650" width="1" height="16" fill="#c0c0c0"/>
<rect x="860" y="650" width="1" height="15" fill="#c0c0c0"/>
<rect x="864" y="650" width="1" height="15" fill="#c0c0c0"/>
<rect x="868" y="650" width="1" height="15" fill="#c0c0c0"/>
<rect x="872" y="650" width="1" height="14" fill="#c0c0c0"/>
<rect x="876" y="650" width="1" height="15" fill="#c0c0c0"/>
<rect x="880" y="650" width="1" height="16" fill="#c0c0c0"/>
<rect x="884" y="650" width="1" height="17" fill="#c0c0c0"/>
<rect x="888" y="650" width="1" height="17" fill="#c0c0c0"/>
<rect x="892" y="650" width="1" height="18" fill="#c0c0c0"/>
<rect x="896" y="650" width="1" height="18" fill="#c0c0c0"/>
<rect x="900" y="650" width="1" height="19" fill="#c0c0c0"/>
<rect x="904" y="650" width="1" height="19" fill="#c0c0c0"/>
<rect x="908" y="650" width="1" height="18" fill="#c0c0c0"/>
<rect x="912" y="650" width="1" height="18" fill="#c0c0c0"/>
<rect x="916" y="650" width="1" height="18" fill="#c0c0c0"/>
<rect x="920" y="650" width="1" height="18" fill="#c0c0c0"/>
<rect x="924" y="650" width="1" height="17" fill="#c0c0c0"/>
<rect x="928" y="650" width="1" height="16" fill="#c0c0c0"/>
<rect x="932" y="650" width="1" height="13" fill="#c0c0c0"/>
<rect x="936" y="650" width="1" height="11" fill="#c0c0c0"/>
<rect x="940" y="650" width="1" height="9" fill="#c0c0c0"/>
<rect x="944" y="650" width="1" height="8" fill="#c0c0c0"/>
<rect x="948" y="650" width="1" height="5" fill="#c0c0c0"/>
<rect x="968" y="649" width="1" height="2" fill="#c0c0c0"/>
<rect x="972" y="649" width="1" height="2" fill="#c0c0c0"/>
<rect x="976" y="646" width="1" height="5" fill="#c0c0c0"/>
<rect x="980" y="645" width="1" height="6" fill="#c0c0c0"/>
<rect x="984" y="644" width="1" height="7" fill="#c0c0c0"/>
<rect x="988" y="645" width="1" height="6" fill="#c0c0c0"/>
<rect x="992" y="644" width="1" height="7" fill="#c0c0c0"/>
<rect x="996" y="644" width="1" height="7" fill="#c0c0c0"/>
<rect x="1000" y="644" width="1" height="7" fill="#c0c0c0"/>
<rect x="1004" y="645" width="1" height="6" fill="#c0c0c0"/>
<rect x="1008" y="645" width="1" height="6" fill="#c0c0c0"/>
<rect x="1012" y="646" width="1" height="5" fill="#c0c0c0"/>
<rect x="1016" y="646" width="1" height="5" fill="#c0c0c0"/>
<rect x="1020" y="646" width="1" height="5" fill="#c0c0c0"/>
<rect x="1024" y="647" width="1" height="4" fill="#c0c0c0"/>
<rect x="1032" y="650" width="1" height="3" fill="#c0c0c0"/>
<rect x="1036" y="650" width="1" height="3" fill="#c0c0c0"/>
<rect x="1040" y="650" width="1" height="3" fill="#c0c0c0"/>
<rect x="1068" y="649" width="1" height="2" fill="#c0c0c0"/>
<rect x="1072" y="644" width="1" height="7" fill="#c0c0c0"/>
<rect x="1076" y="639" width="1" height="12" fill="#c0c0c0"/>
<rect x="1080" y="636" width="1" height="15" fill="#c0c0c0"/>
<rect x="1084" y="634" width="1" height="17" fill="#c0c0c0"/>
<rect x="1088" y="631" width="1" height="20" fill="#c0c0c0"/>
<rect x="1092" y="630" width="1" height="21" fill="#c0c0c0"/>
<rect x="1096" y="635" width="1" height="16" fill="#c0c0c0"/>
<rect x="1100" y="638" width="1" height="13" fill="#c0c0c0"/>
<rect x="1104" y="642" width="1" height="9" fill="#c0c0c0"/>
<rect x="1108" y="644" width="1" height="7" fill="#c0c0c0"/>
<rect x="1112" y="645" width="1" height="6" fill="#c0c0c0"/>
<rect x="1116" y="647" width="1" height="4" fill="#c0c0c0"/>
<rect x="1128" y="650" width="1" height="5" fill="#c0c0c0"/>
<rect x="1132" y="650" width="1" height="6" fill="#c0c0c0"/>
<rect x="1136" y="650" width="1" height="7" fill="#c0c0c0"/>
<rect x="1140" y="650" width="1" height="8" fill="#c0c0c0"/>
<rect x="1144" y="650" width="1" height="10" fill="#c0c0c0"/>
<rect x="1148" y="650" width="1" height="12" fill="#c0c0c0"/>
<rect x="1152" y="650" width="1" height="12" fill="#c0c0c0"/>
<rect x="1156" y="650" width="1" height="13" fill="#c0c0c0"/>
<rect x="1160" y="650" width="1" height="13" fill="#c0c0c0"/>
<rect x="1164" y="650" width="1" height="14" fill="#c0c0c0"/>
<rect x="1168" y="650" width="1" height="17" fill="#c0c0c0"/>
<rect x="1172" y="650" width="1" height="17" fill="#c0c0c0"/>
<rect x="1176" y="650" width="1" height="16" fill="#c0c0c0"/>
<rect x="1180" y="650" width="1" height="15" fill="#c0c0c0"/>
<rect x="1184" y="650" width="1" height="15" fill="#c0c0c0"/>
<rect x="1188" y="650" width="1" height="14" fill="#c0c0c0"/>
<rect x="1192" y="650" width="1" height="14" fill="#c0c0c0"/>
<rect x="1196" y="650" width="1" height="15" fill="#c0c0c0"/>
<rect x="1200" y="650" width="1" height="15" fill="#c0c0c0"/>
<rect x="1204" y="650" width="1" height="15" fill="#c0c0c0"/>
<rect x="1208" y="650" width="1" height="15" fill="#c0c0c0"/>
<rect x="1212" y="650" width="1" height="13" fill="#c0c0c0"/>
<rect x="1216" y="650" width="1" height="9" fill="#c0c0c0"/>
<rect x="1220" y="650" width="1" height="4" fill="#c0c0c0"/>
<rect x="1232" y="648" width="1" height="3" fill="#c0c0c0"/>
<rect x="1236" y="648" width="1" height="3" fill="#c0c0c0"/>
<rect x="1240" y="646" width="1" height="5" fill="#c0c0c0"/>
<rect x="1244" y="645" width="1" height="6" fill="#c0c0c0"/>
<rect x="1248" y="644" width="1" height="7" fill="#c0c0c0"/>
<rect x="1252" y="642" width="1" height="9" fill="#c0c0c0"/>
<rect x="1256" y="642" width="1" height="9" fill="#c0c0c0"/>
<rect x="1260" y="643" width="1" height="8" fill="#c0c0c0"/>
<rect x="1264" y="643" width="1" height="8" fill="#c0c0c0"/>
<rect x="1268" y="643" width="1" height="8" fill="#c0c0c0"/>
<rect x="1272" y="644" width="1" height="7" fill="#c0c0c0"/>
<rect x="1276" y="645" width="1" height="6" fill="#c0c0c0"/>
<rect x="1280" y="646" width="1" height="5" fill="#c0c0c0"/>
<polyline points="4.5,623.1 8.5,623.9 12.5,624.6 16.5,625.4 20.5,626.2 24.5,626.9 28.5,627.7 32.5,629.5 36.5,632.4 40.5,635.0 44.5,637.7 48.5,640.9 52.5,644.2 56.5,647.4 60.5,650.3 64.5,653.5 68.5,657.3 72.5,661.5 76.5,665.4 80.5,669.2 84.5,672.7 88.5,676.0 92.5,679.6 96.5,683.2 100.5,686.1 104.5,688.6 108.5,690.4 112.5,692.1 116.5,693.6 120.5,694.9 124.5,696.0 128.5,696.7 132.5,696.9 136.5,697.2 140.5,697.2 144.5,697.0 148.5,696.3 152.5,695.2 156.5,693.8 160.5,692.3 164.5,690.8 168.5,689.4 172.5,688.1 176.5,686.8 180.5,685.4 184.5,684.4 188.5,683.7 192.5,683.1 196.5,682.4 200.5,681.7 204.5,681.0 208.5,680.2 212.5,679.4 216.5,678.7 220.5,677.6 224.5,676.2 228.5,674.7 232.5,673.1 236.5,671.7 240.5,670.1 244.5,668.8 248.5,667.6 252.5,666.7 256.5,666.2 260.5,666.1 264.5,666.0 268.5,665.9 272.5,665.9 276.5,666.9 280.5,668.3 284.5,670.1 288.5,671.8 292.5,673.3 296.5,674.8 300.5,676.3 304.5,677.9 308.5,679.3 312.5,679.7 316.5,679.3 320.5,678.7 324.5,677.7 328.5,676.2 332.5,674.7 336.5,672.9 340.5,671.1 344.5,669.3 348.5,667.8 352.5,666.2 356.5,664.6 360.5,663.1 364.5,662.0 368.5,661.0 372.5,660.8 376.5,660.7 380.5,660.8 384.5,661.0 388.5,661.4 392.5,662.2 396.5,663.0 400.5,663.7 404.5,664.2 408.5,664.2 412.5,664.2 416.5,663.8 420.5,663.1 424.5,662.6 428.5,662.0 432.5,661.6 436.5,661.0 440.5,660.3 444.5,659.4 448.5,658.7 452.5,658.6 456.5,659.1 460.5,660.0 464.5,661.1 468.5,662.4 472.5,663.9 476.5,665.6 480.5,667.7 484.5,669.8 488.5,671.6 492.5,672.8 496.5,673.3 500.5,673.0 504.5,672.0 508.5,670.7 512.5,669.0 516.5,667.1 520.5,665.1 524.5,663.1 528.5,661.0 532.5,658.9 536.5,656.9 540.5,655.2 544.5,654.1 548.5,653.1 552.5,651.9 556.5,650.7 560.5,649.5 564.5,648.3 568.5,647.3 572.5,646.7 576.5,646.4 580.5,646.1 584.5,646.0 588.5,646.4 592.5,647.4 596.5,648.6 600.5,650.4 604.5,652.5 608.5,654.8 612.5,657.3 616.5,660.1 620.5,663.6 624.5,667.4 628.5,671.0 632.5,674.8 636.5,678.3 640.5,681.9 644.5,685.3 648.5,688.3 652.5,690.9 656.5,692.3 660.5,692.9 664.5,692.9 668.5,692.1 672.5,690.7 676.5,688.3 680.5,685.3 684.5,682.3 688.5,678.8 692.5,674.8 696.5,670.4 700.5,666.2 704.5,661.9 708.5,657.8 712.5,654.4 716.5,651.8 720.5,649.4 724.5,647.7 728.5,647.1 732.5,647.1 736.5,647.7 740.5,649.2 744.5,650.9 748.5,652.6 752.5,654.4 756.5,656.6 760.5,658.6 764.5,660.2 768.5,661.7 772.5,662.7 776.5,663.4 780.5,664.4 784.5,665.8 788.5,667.1 792.5,668.1 796.5,669.2 800.5,670.6 804.5,671.8 808.5,672.6 812.5,673.0 816.5,672.4 820.5,670.8 824.5,668.6 828.5,666.1 832.5,663.9 836.5,661.8 840.5,660.3 844.5,659.7 848.5,659.4 852.5,660.0 856.5,660.9 860.5,662.1 864.5,663.4 868.5,664.4 872.5,665.1 876.5,665.4 880.5,665.6 884.5,665.7 888.5,665.6 892.5,665.8 896.5,666.1 900.5,666.6 904.5,667.0 908.5,667.5 912.5,667.8 916.5,668.0 920.5,668.1 924.5,668.1 928.5,667.9 932.5,667.3 936.5,666.4 940.5,665.3 944.5,664.2 948.5,662.8 952.5,660.8 956.5,658.9 960.5,657.1 964.5,655.3 968.5,653.8 972.5,652.4 976.5,651.0 980.5,649.6 984.5,648.3 988.5,647.7 992.5,647.0 996.5,646.3 1000.5,645.6 1004.5,645.1 1008.5,644.7 1012.5,644.7 1016.5,644.8 1020.5,645.0 1024.5,645.2 1028.5,645.9 1032.5,646.9 1036.5,647.9 1040.5,648.8 1044.5,649.4 1048.5,649.9 1052.5,650.4 1056.5,650.9 1060.5,651.3 1064.5,651.3 1068.5,650.9 1072.5,649.9 1076.5,648.3 1080.5,646.7 1084.5,644.9 1088.5,642.7 1092.5,640.4 1096.5,638.7 1100.5,637.3 1104.5,636.6 1108.5,636.6 1112.5,637.2 1116.5,638.4 1120.5,640.3 1124.5,642.4 1128.5,645.2 1132.5,647.6 1136.5,649.7 1140.5,651.4 1144.5,653.2 1148.5,655.1 1152.5,656.8 1156.5,658.2 1160.5,659.6 1164.5,660.6 1168.5,661.8 1172.5,662.9 1176.5,663.8 1180.5,664.3 1184.5,664.7 1188.5,664.9 1192.5,665.0 1196.5,665.2 1200.5,665.3 1204.5,665.1 1208.5,664.9 1212.5,664.6 1216.5,663.9 1220.5,662.7 1224.5,661.2 1228.5,659.7 1232.5,657.8 1236.5,655.9 1240.5,653.8 1244.5,651.6 1248.5,649.4 1252.5,647.6 1256.5,646.2 1260.5,645.4 1264.5,644.6 1268.5,644.0 1272.5,643.6 1276.5,643.4 1280.5,643.6" fill="none" stroke="#ff0000" stroke-width="1" stroke-linejoin="round" stroke-dasharray="3,3"/>
<text x="8" y="628" font-size="9.6" fill="#000" text-anchor="start" textLength="148" lengthAdjust="spacingAndGlyphs" stroke="#000" stroke-width="0.3">MACD(12,26,9) 0.000398 0.000553</text>
<rect x="1613" y="650" width="3" height="1" fill="#000"/>
<rect x="1613" y="613" width="2" height="1" fill="#000"/><rect x="1613" y="615" width="2" height="1" fill="#000"/><rect x="1613" y="705" width="2" height="1" fill="#000"/>
<text x="1616" y="626" font-size="9.6" fill="#000" text-anchor="start" textLength="38" lengthAdjust="spacingAndGlyphs" stroke="#000" stroke-width="0.2">0.002465</text>
<text x="1616" y="654" font-size="9.6" fill="#000" text-anchor="start" textLength="18" lengthAdjust="spacingAndGlyphs" stroke="#000" stroke-width="0.2">0.00</text>
<text x="1616" y="702" font-size="9.6" fill="#000" text-anchor="start" textLength="41" lengthAdjust="spacingAndGlyphs" stroke="#000" stroke-width="0.2">-0.003939</text>
<rect x="4" y="706" width="1" height="3" fill="#000"/>
<text x="3" y="718" font-size="9.5" fill="#000" text-anchor="start" stroke="#000" stroke-width="0.3">1 Apr 2021</text>
<rect x="68" y="706" width="1" height="3" fill="#000"/>
<text x="67" y="718" font-size="9.5" fill="#000" text-anchor="start" stroke="#000" stroke-width="0.3">6 Apr 22:00</text>
<rect x="132" y="706" width="1" height="3" fill="#000"/>
<text x="131" y="718" font-size="9.5" fill="#000" text-anchor="start" stroke="#000" stroke-width="0.3">9 Apr 14:00</text>
<rect x="196" y="706" width="1" height="3" fill="#000"/>
<text x="195" y="718" font-size="9.5" fill="#000" text-anchor="start" stroke="#000" stroke-width="0.3">14 Apr 04:00</text>
<rect x="260" y="706" width="1" height="3" fill="#000"/>
<text x="259" y="718" font-size="9.5" fill="#000" text-anchor="start" stroke="#000" stroke-width="0.3">16 Apr 22:00</text>
<rect x="324" y="706" width="1" height="3" fill="#000"/>
<text x="323" y="718" font-size="9.5" fill="#000" text-anchor="start" stroke="#000" stroke-width="0.3">21 Apr 14:00</text>
<rect x="388" y="706" width="1" height="3" fill="#000"/>
<text x="387" y="718" font-size="9.5" fill="#000" text-anchor="start" stroke="#000" stroke-width="0.3">26 Apr 07:00</text>
<rect x="452" y="706" width="1" height="3" fill="#000"/>
<text x="451" y="718" font-size="9.5" fill="#000" text-anchor="start" stroke="#000" stroke-width="0.3">28 Apr 22:00</text>
<rect x="516" y="706" width="1" height="3" fill="#000"/>
<text x="515" y="718" font-size="9.5" fill="#000" text-anchor="start" stroke="#000" stroke-width="0.3">3 May 15:00</text>
<rect x="580" y="706" width="1" height="3" fill="#000"/>
<text x="579" y="718" font-size="9.5" fill="#000" text-anchor="start" stroke="#000" stroke-width="0.3">6 May 04:00</text>
<rect x="644" y="706" width="1" height="3" fill="#000"/>
<text x="643" y="718" font-size="9.5" fill="#000" text-anchor="start" stroke="#000" stroke-width="0.3">10 May 23:00</text>
<rect x="708" y="706" width="1" height="3" fill="#000"/>
<text x="707" y="718" font-size="9.5" fill="#000" text-anchor="start" stroke="#000" stroke-width="0.3">13 May 14:00</text>
<rect x="772" y="706" width="1" height="3" fill="#000"/>
<text x="771" y="718" font-size="9.5" fill="#000" text-anchor="start" stroke="#000" stroke-width="0.3">18 May 04:00</text>
<rect x="836" y="706" width="1" height="3" fill="#000"/>
<text x="835" y="718" font-size="9.5" fill="#000" text-anchor="start" stroke="#000" stroke-width="0.3">20 May 22:00</text>
<rect x="900" y="706" width="1" height="3" fill="#000"/>
<text x="899" y="718" font-size="9.5" fill="#000" text-anchor="start" stroke="#000" stroke-width="0.3">25 May 14:00</text>
<rect x="964" y="706" width="1" height="3" fill="#000"/>
<text x="963" y="718" font-size="9.5" fill="#000" text-anchor="start" stroke="#000" stroke-width="0.3">28 May 04:00</text>
<rect x="1028" y="706" width="1" height="3" fill="#000"/>
<text x="1027" y="718" font-size="9.5" fill="#000" text-anchor="start" stroke="#000" stroke-width="0.3">1 Jun 22:00</text>
<rect x="1092" y="706" width="1" height="3" fill="#000"/>
<text x="1091" y="718" font-size="9.5" fill="#000" text-anchor="start" stroke="#000" stroke-width="0.3">4 Jun 14:00</text>
<rect x="1156" y="706" width="1" height="3" fill="#000"/>
<text x="1155" y="718" font-size="9.5" fill="#000" text-anchor="start" stroke="#000" stroke-width="0.3">9 Jun 04:00</text>
<rect x="1220" y="706" width="1" height="3" fill="#000"/>
<text x="1219" y="718" font-size="9.5" fill="#000" text-anchor="start" stroke="#000" stroke-width="0.3">11 Jun 22:00</text>
<rect x="0" y="726" width="1654" height="1" fill="#e3e3e3"/>
<rect x="0" y="727" width="1654" height="1" fill="#ffffff"/>
<rect x="0" y="728" width="1654" height="25" fill="#f0f0f0"/>
<rect x="0" y="728" width="1654" height="1" fill="#000"/>
<rect x="0" y="729" width="1" height="18" fill="#696969"/>
<rect x="6" y="728" width="86" height="18" fill="#ffffff"/>
<rect x="5" y="728" width="1" height="19" fill="#000"/><rect x="92" y="728" width="1" height="19" fill="#000"/><rect x="5" y="746" width="88" height="1" fill="#000"/>
<rect x="0" y="748" width="1654" height="1" fill="#ffffff"/>
<rect x="0" y="752" width="1654" height="1" fill="#a0a0a0"/>
<text x="15.7" y="743" font-size="12" fill="#000" text-anchor="start" textLength="66.5" lengthAdjust="spacingAndGlyphs" stroke="#000" stroke-width="0.1">USDCHF,H4</text>
<text x="103.4" y="743" font-size="12" fill="#6d6d6d" text-anchor="start" textLength="82.2" lengthAdjust="spacingAndGlyphs" stroke="#6d6d6d" stroke-width="0.1">USDCNH,Daily</text>
<text x="208.9" y="743" font-size="12" fill="#6d6d6d" text-anchor="start" textLength="67.9" lengthAdjust="spacingAndGlyphs" stroke="#6d6d6d" stroke-width="0.1">EURUSD,H4</text>
<text x="299.8" y="743" font-size="12" fill="#6d6d6d" text-anchor="start" textLength="70.4" lengthAdjust="spacingAndGlyphs" stroke="#6d6d6d" stroke-width="0.1">AUDUSD,H4</text>
<text x="392.2" y="743" font-size="12" fill="#6d6d6d" text-anchor="start" textLength="68.9" lengthAdjust="spacingAndGlyphs" stroke="#6d6d6d" stroke-width="0.1">USDCAD,H4</text>
<text x="484" y="743" font-size="12" fill="#6d6d6d" text-anchor="start" textLength="68.9" lengthAdjust="spacingAndGlyphs" stroke="#6d6d6d" stroke-width="0.1">XAUUSD,H1</text>
<text x="575.1" y="743" font-size="12" fill="#6d6d6d" text-anchor="start" textLength="50.9" lengthAdjust="spacingAndGlyphs" stroke="#6d6d6d" stroke-width="0.1">USOil,H4</text>
<rect x="197" y="732" width="1" height="13" fill="#808080"/>
<rect x="289" y="732" width="1" height="13" fill="#808080"/>
<rect x="381" y="732" width="1" height="13" fill="#808080"/>
<rect x="473" y="732" width="1" height="13" fill="#808080"/>
<rect x="565" y="732" width="1" height="13" fill="#808080"/>
<rect x="637" y="732" width="1" height="13" fill="#808080"/>
<path d="M1631 734 L1628 737.5 L1631 741 Z" fill="#a0a0a0"/><path d="M1647 734 L1650 737.5 L1647 741 Z" fill="#a0a0a0"/>
</svg>
</body></html>
